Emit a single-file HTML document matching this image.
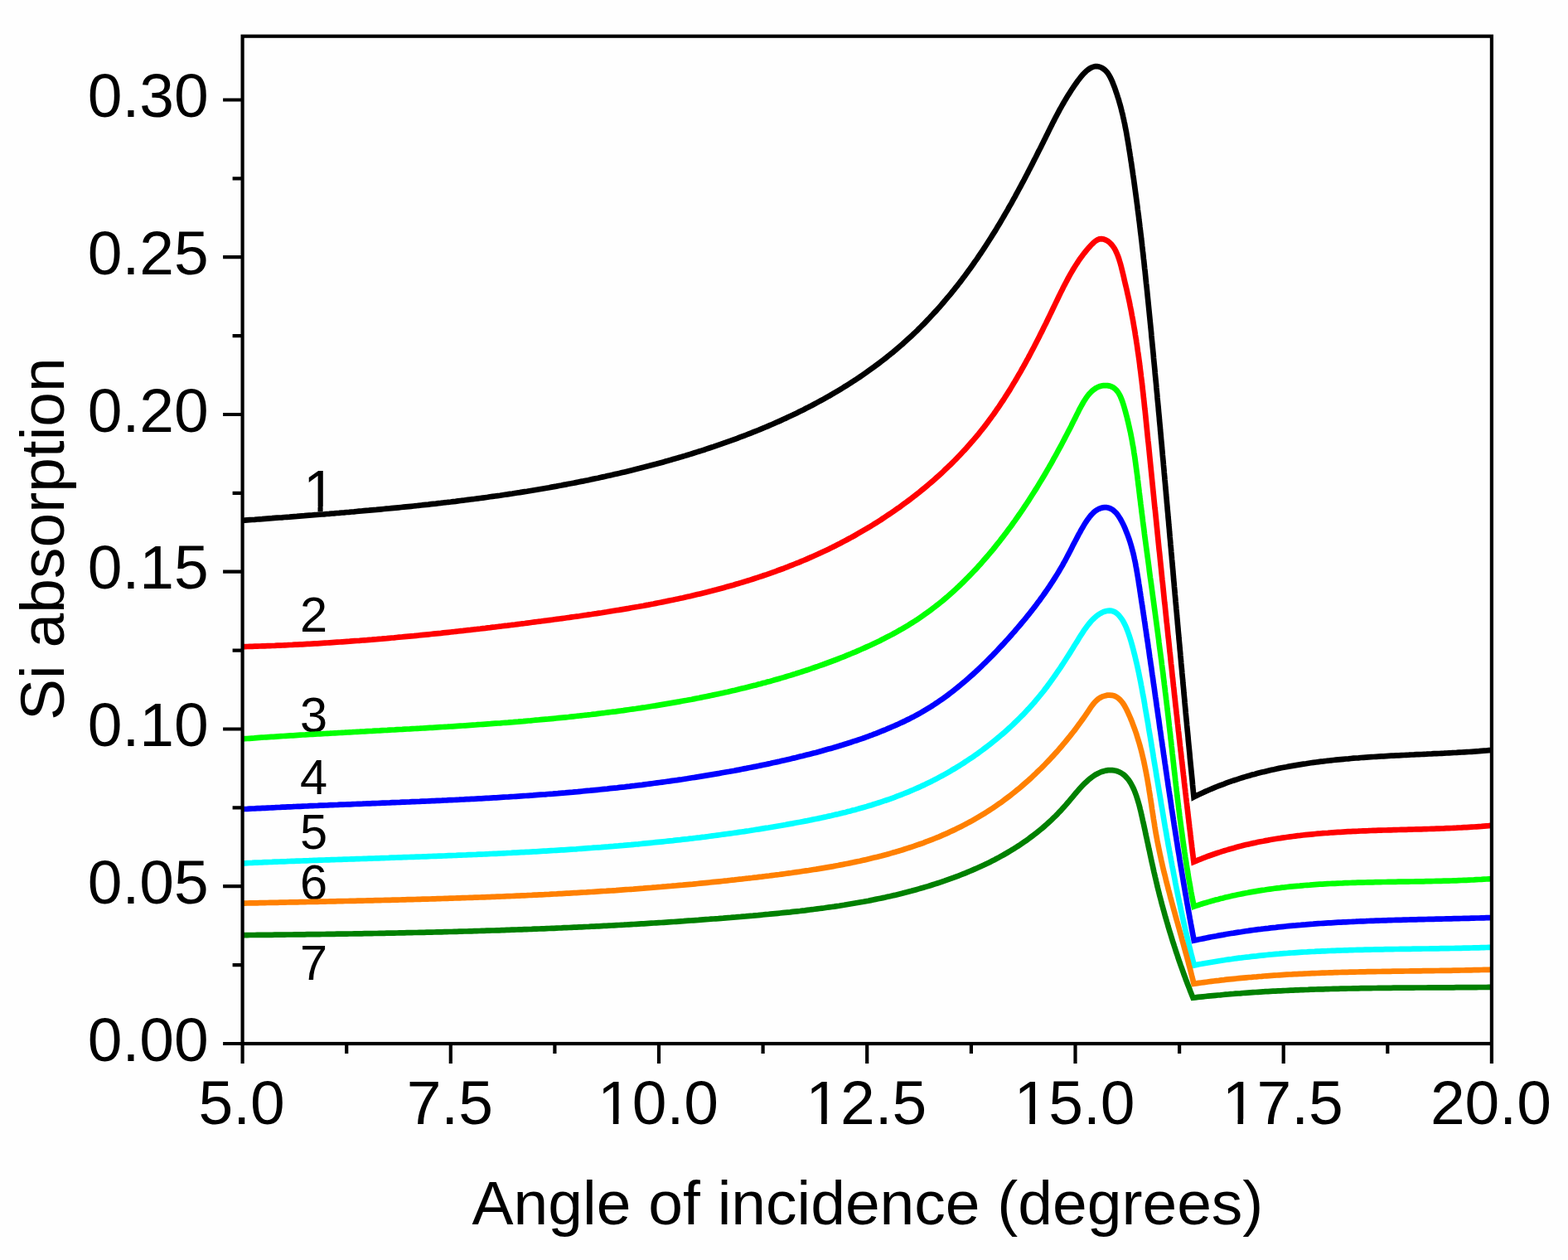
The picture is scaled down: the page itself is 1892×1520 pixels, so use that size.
<!DOCTYPE html>
<html><head><meta charset="utf-8"><title>Si absorption vs angle of incidence</title>
<style>
html,body{margin:0;padding:0;background:#fefefe;}
svg{display:block;}
text{font-family:"Liberation Sans",sans-serif;fill:#000;}
</style></head>
<body>
<svg width="1892" height="1520" viewBox="0 0 1892 1520">
<rect x="0" y="0" width="1892" height="1520" fill="#fefefe"/>
<defs><clipPath id="c1"><rect x="300" y="540" width="200" height="71"/><rect x="383.5" y="600" width="6.1" height="22"/></clipPath><clipPath id="cx2"><rect x="711.0" y="1280" width="166.0" height="69.7"/><rect x="739.8" y="1330" width="6.6" height="40"/><rect x="760.0" y="1330" width="146.0" height="40"/></clipPath><clipPath id="cx3"><rect x="962.3" y="1280" width="166.0" height="69.7"/><rect x="991.1" y="1330" width="6.6" height="40"/><rect x="1011.3" y="1330" width="146.0" height="40"/></clipPath><clipPath id="cx4"><rect x="1213.5" y="1280" width="166.0" height="69.7"/><rect x="1242.3" y="1330" width="6.6" height="40"/><rect x="1262.5" y="1330" width="146.0" height="40"/></clipPath><clipPath id="cx5"><rect x="1464.7" y="1280" width="166.0" height="69.7"/><rect x="1493.5" y="1330" width="6.6" height="40"/><rect x="1513.7" y="1330" width="146.0" height="40"/></clipPath></defs>
<g font-size="59.5">
<text x="365.9" y="617.2" font-size="70" clip-path="url(#c1)">1</text>
<text x="362.1" y="761.6">2</text>
<text x="362.1" y="882.8">3</text>
<text x="362.1" y="957.9">4</text>
<text x="362.1" y="1023.9">5</text>
<text x="362.1" y="1085.1">6</text>
<text x="362.1" y="1182">7</text>
</g>
<g fill="none" stroke-width="6.7" stroke-linejoin="miter" stroke-linecap="butt">
<path d="M292.3,627.9 L295.3,627.7 L298.3,627.4 L301.3,627.2 L304.3,627.0 L307.3,626.8 L310.3,626.5 L313.3,626.3 L316.3,626.1 L319.3,625.8 L322.3,625.6 L325.3,625.4 L328.2,625.2 L331.2,624.9 L334.2,624.7 L337.2,624.5 L340.2,624.3 L343.2,624.0 L346.2,623.8 L349.2,623.6 L352.2,623.3 L355.2,623.1 L358.2,622.9 L361.2,622.6 L364.2,622.4 L367.2,622.2 L370.2,621.9 L373.2,621.7 L376.2,621.5 L379.2,621.2 L382.2,621.0 L385.2,620.7 L388.2,620.5 L391.2,620.3 L394.2,620.0 L397.2,619.8 L400.2,619.5 L403.2,619.3 L406.2,619.0 L409.2,618.8 L412.2,618.5 L415.2,618.3 L418.2,618.0 L421.2,617.8 L424.2,617.5 L427.1,617.3 L430.1,617.0 L433.1,616.7 L436.1,616.5 L439.1,616.2 L442.1,615.9 L445.1,615.7 L448.1,615.4 L451.1,615.1 L454.1,614.9 L457.1,614.6 L460.1,614.3 L463.1,614.0 L466.1,613.7 L469.1,613.5 L472.1,613.2 L475.1,612.9 L478.0,612.6 L481.0,612.3 L484.0,612.0 L487.0,611.7 L490.0,611.4 L493.0,611.1 L496.0,610.8 L499.0,610.5 L502.0,610.2 L505.0,609.8 L507.9,609.5 L510.9,609.2 L513.9,608.9 L516.9,608.6 L519.9,608.2 L522.9,607.9 L525.9,607.6 L528.9,607.2 L531.8,606.9 L534.8,606.5 L537.8,606.2 L540.8,605.8 L543.8,605.5 L546.8,605.1 L549.7,604.8 L552.7,604.4 L555.7,604.0 L558.7,603.7 L561.7,603.3 L564.6,602.9 L567.6,602.5 L570.6,602.2 L573.6,601.8 L576.6,601.4 L579.5,601.0 L582.5,600.6 L585.5,600.2 L588.5,599.8 L591.4,599.3 L594.4,598.9 L597.4,598.5 L600.3,598.1 L603.3,597.7 L606.3,597.2 L609.3,596.8 L612.2,596.4 L615.2,595.9 L618.2,595.5 L621.1,595.0 L624.1,594.5 L627.1,594.1 L630.0,593.6 L633.0,593.1 L635.9,592.7 L638.9,592.2 L641.9,591.7 L644.8,591.2 L647.8,590.7 L650.7,590.2 L653.7,589.7 L656.7,589.2 L659.6,588.7 L662.6,588.2 L665.5,587.6 L668.5,587.1 L671.4,586.6 L674.4,586.0 L677.3,585.5 L680.3,584.9 L683.2,584.4 L686.2,583.8 L689.1,583.3 L692.1,582.7 L695.0,582.1 L698.0,581.5 L700.9,580.9 L703.9,580.4 L706.8,579.8 L709.7,579.2 L712.7,578.5 L715.6,577.9 L718.6,577.3 L721.5,576.7 L724.4,576.0 L727.4,575.4 L730.3,574.8 L733.2,574.1 L736.2,573.4 L739.1,572.8 L742.0,572.1 L744.9,571.4 L747.9,570.8 L750.8,570.1 L753.7,569.4 L756.6,568.7 L759.6,568.0 L762.5,567.3 L765.4,566.5 L768.3,565.8 L771.2,565.1 L774.2,564.3 L777.1,563.6 L780.0,562.8 L782.9,562.1 L785.8,561.3 L788.7,560.5 L791.6,559.8 L794.5,559.0 L797.4,558.2 L800.3,557.4 L803.2,556.6 L806.1,555.8 L809.0,554.9 L811.9,554.1 L814.8,553.3 L817.7,552.4 L820.6,551.6 L823.5,550.7 L826.4,549.9 L829.3,549.0 L832.2,548.1 L835.1,547.2 L838.0,546.3 L840.9,545.4 L843.7,544.5 L846.6,543.6 L849.5,542.7 L852.4,541.7 L855.2,540.8 L858.1,539.8 L861.0,538.9 L863.8,537.9 L866.7,536.9 L869.6,535.9 L872.4,534.9 L875.3,533.9 L878.1,532.9 L881.0,531.9 L883.8,530.9 L886.7,529.8 L889.5,528.8 L892.3,527.7 L895.1,526.7 L898.0,525.6 L900.8,524.5 L903.6,523.4 L906.4,522.3 L909.2,521.2 L912.0,520.1 L914.8,519.0 L917.6,517.8 L920.4,516.7 L923.2,515.5 L926.0,514.3 L928.7,513.1 L931.5,512.0 L934.3,510.8 L937.0,509.5 L939.8,508.3 L942.5,507.1 L945.3,505.8 L948.0,504.6 L950.7,503.3 L953.5,502.0 L956.2,500.8 L958.9,499.5 L961.6,498.2 L964.3,496.8 L967.0,495.5 L969.7,494.2 L972.3,492.8 L975.0,491.4 L977.7,490.1 L980.3,488.7 L983.0,487.3 L985.6,485.9 L988.3,484.4 L990.9,483.0 L993.5,481.6 L996.1,480.1 L998.7,478.6 L1001.3,477.2 L1003.9,475.7 L1006.5,474.1 L1009.1,472.6 L1011.7,471.1 L1014.2,469.6 L1016.8,468.0 L1019.3,466.4 L1021.9,464.8 L1024.4,463.2 L1026.9,461.6 L1029.4,460.0 L1031.9,458.4 L1034.4,456.7 L1036.9,455.1 L1039.3,453.4 L1041.8,451.7 L1044.3,450.0 L1046.7,448.3 L1049.1,446.6 L1051.6,444.8 L1054.0,443.1 L1056.4,441.3 L1058.8,439.5 L1061.2,437.7 L1063.5,435.9 L1065.9,434.1 L1068.3,432.3 L1070.6,430.4 L1072.9,428.5 L1075.2,426.7 L1077.6,424.8 L1079.9,422.8 L1082.2,420.9 L1084.4,419.0 L1086.7,417.0 L1089.0,415.1 L1091.2,413.1 L1093.4,411.1 L1095.6,409.1 L1097.9,407.0 L1100.1,405.0 L1102.2,402.9 L1104.4,400.9 L1106.6,398.8 L1108.7,396.7 L1110.9,394.5 L1113.0,392.4 L1115.1,390.3 L1117.2,388.1 L1119.3,385.9 L1121.4,383.7 L1123.4,381.5 L1125.5,379.3 L1127.5,377.1 L1129.6,374.9 L1131.6,372.6 L1133.6,370.4 L1135.6,368.1 L1137.6,365.8 L1139.5,363.5 L1141.5,361.2 L1143.4,358.9 L1145.4,356.6 L1147.3,354.3 L1149.2,351.9 L1151.1,349.6 L1153.0,347.2 L1154.9,344.8 L1156.7,342.5 L1158.6,340.1 L1160.4,337.7 L1162.2,335.3 L1164.0,332.9 L1165.8,330.5 L1167.6,328.0 L1169.4,325.6 L1171.1,323.2 L1172.9,320.7 L1174.6,318.3 L1176.3,315.8 L1178.1,313.4 L1179.8,310.9 L1181.4,308.4 L1183.1,306.0 L1184.8,303.5 L1186.4,301.0 L1188.1,298.5 L1189.7,296.0 L1191.3,293.5 L1192.9,291.0 L1194.5,288.5 L1196.1,285.9 L1197.7,283.4 L1199.3,280.9 L1200.9,278.4 L1202.4,275.8 L1203.9,273.3 L1205.5,270.7 L1207.0,268.2 L1208.5,265.6 L1210.0,263.1 L1211.5,260.5 L1213.0,257.9 L1214.5,255.4 L1216.0,252.8 L1217.4,250.2 L1218.9,247.6 L1220.4,245.1 L1221.8,242.5 L1223.2,239.9 L1224.7,237.3 L1226.1,234.7 L1227.5,232.1 L1228.9,229.5 L1230.3,226.9 L1231.7,224.3 L1233.1,221.7 L1234.5,219.1 L1235.9,216.5 L1237.2,213.9 L1238.6,211.2 L1240.0,208.6 L1241.3,206.0 L1242.7,203.4 L1244.0,200.8 L1245.4,198.2 L1246.7,195.5 L1248.0,192.9 L1249.4,190.3 L1250.7,187.7 L1252.0,185.0 L1253.3,182.4 L1254.7,179.8 L1256.0,177.2 L1257.3,174.5 L1258.6,171.9 L1259.9,169.3 L1261.2,166.7 L1262.5,164.0 L1263.8,161.4 L1265.1,158.8 L1266.4,156.1 L1267.7,153.5 L1269.0,150.9 L1270.3,148.3 L1271.7,145.6 L1273.0,143.0 L1274.4,140.4 L1275.8,137.7 L1277.2,135.1 L1278.6,132.4 L1280.1,129.8 L1281.6,127.2 L1283.1,124.5 L1284.6,121.9 L1286.2,119.2 L1287.8,116.5 L1289.5,113.9 L1291.2,111.2 L1292.9,108.5 L1294.7,105.8 L1296.5,103.2 L1298.4,100.5 L1300.3,97.8 L1302.3,95.2 L1304.3,92.7 L1306.3,90.3 L1308.4,88.0 L1310.5,86.0 L1312.7,84.2 L1314.8,82.7 L1317.0,81.5 L1319.3,80.6 L1321.5,80.1 L1323.8,80.0 L1326.0,80.4 L1328.3,81.2 L1330.5,82.4 L1332.6,83.9 L1334.6,85.8 L1336.4,87.9 L1338.1,90.4 L1339.6,93.1 L1341.0,95.9 L1342.3,98.9 L1343.5,101.9 L1344.7,105.0 L1345.8,108.1 L1346.8,111.1 L1347.9,114.2 L1348.8,117.2 L1349.8,120.2 L1350.6,123.2 L1351.5,126.2 L1352.3,129.2 L1353.1,132.2 L1353.8,135.1 L1354.6,138.1 L1355.2,141.0 L1355.9,144.0 L1356.5,146.9 L1357.2,149.9 L1357.7,152.8 L1358.3,155.7 L1358.9,158.6 L1359.4,161.5 L1359.9,164.5 L1360.4,167.4 L1360.9,170.3 L1361.4,173.2 L1361.9,176.1 L1362.3,179.0 L1362.8,182.0 L1363.3,184.9 L1363.7,187.8 L1364.2,190.7 L1364.6,193.7 L1365.1,196.6 L1365.5,199.5 L1365.9,202.4 L1366.4,205.4 L1366.8,208.3 L1367.2,211.3 L1367.7,214.2 L1368.1,217.1 L1368.5,220.1 L1368.9,223.0 L1369.3,226.0 L1369.7,228.9 L1370.1,231.9 L1370.5,234.8 L1370.9,237.8 L1371.3,240.8 L1371.7,243.7 L1372.1,246.7 L1372.5,249.6 L1372.8,252.6 L1373.2,255.6 L1373.6,258.5 L1374.0,261.5 L1374.3,264.5 L1374.7,267.4 L1375.1,270.4 L1375.4,273.4 L1375.8,276.4 L1376.1,279.3 L1376.5,282.3 L1376.9,285.3 L1377.2,288.3 L1377.6,291.3 L1377.9,294.2 L1378.2,297.2 L1378.6,300.2 L1378.9,303.2 L1379.3,306.2 L1379.6,309.2 L1379.9,312.2 L1380.3,315.1 L1380.6,318.1 L1380.9,321.1 L1381.2,324.1 L1381.6,327.1 L1381.9,330.1 L1382.2,333.1 L1382.5,336.1 L1382.8,339.1 L1383.1,342.1 L1383.5,345.1 L1383.8,348.1 L1384.1,351.1 L1384.4,354.1 L1384.7,357.1 L1385.0,360.1 L1385.3,363.0 L1385.6,366.0 L1385.9,369.0 L1386.2,372.0 L1386.5,375.0 L1386.8,378.0 L1387.1,381.0 L1387.4,384.0 L1387.7,387.0 L1388.0,390.0 L1388.3,393.0 L1388.6,396.0 L1388.9,399.0 L1389.2,402.0 L1389.4,405.0 L1389.7,408.0 L1390.0,411.0 L1390.3,414.0 L1390.6,417.0 L1390.9,420.0 L1391.2,423.0 L1391.5,426.0 L1391.8,429.0 L1392.0,432.0 L1392.3,435.0 L1392.6,438.0 L1392.9,441.0 L1393.2,444.0 L1393.5,447.0 L1393.7,450.0 L1394.0,453.0 L1394.3,456.0 L1394.6,459.0 L1394.9,462.0 L1395.2,465.0 L1395.4,468.0 L1395.7,471.0 L1396.0,474.0 L1396.3,477.0 L1396.5,480.0 L1396.8,483.0 L1397.1,486.0 L1397.4,489.0 L1397.7,491.9 L1397.9,494.9 L1398.2,497.9 L1398.5,500.9 L1398.8,503.9 L1399.0,506.9 L1399.3,509.9 L1399.6,512.9 L1399.9,515.9 L1400.1,518.9 L1400.4,521.9 L1400.7,524.9 L1400.9,527.9 L1401.2,530.9 L1401.5,533.9 L1401.8,536.9 L1402.0,539.9 L1402.3,542.8 L1402.6,545.8 L1402.8,548.8 L1403.1,551.8 L1403.4,554.8 L1403.7,557.8 L1403.9,560.8 L1404.2,563.8 L1404.5,566.8 L1404.7,569.8 L1405.0,572.8 L1405.3,575.8 L1405.5,578.8 L1405.8,581.7 L1406.1,584.7 L1406.3,587.7 L1406.6,590.7 L1406.9,593.7 L1407.1,596.7 L1407.4,599.7 L1407.7,602.7 L1407.9,605.7 L1408.2,608.7 L1408.5,611.7 L1408.7,614.7 L1409.0,617.6 L1409.3,620.6 L1409.5,623.6 L1409.8,626.6 L1410.1,629.6 L1410.3,632.6 L1410.6,635.6 L1410.9,638.6 L1411.1,641.6 L1411.4,644.6 L1411.6,647.5 L1411.9,650.5 L1412.2,653.5 L1412.4,656.5 L1412.7,659.5 L1413.0,662.5 L1413.2,665.5 L1413.5,668.5 L1413.8,671.5 L1414.0,674.5 L1414.3,677.4 L1414.6,680.4 L1414.8,683.4 L1415.1,686.4 L1415.4,689.4 L1415.6,692.4 L1415.9,695.4 L1416.1,698.4 L1416.4,701.4 L1416.7,704.4 L1416.9,707.3 L1417.2,710.3 L1417.5,713.3 L1417.7,716.3 L1418.0,719.3 L1418.3,722.3 L1418.5,725.3 L1418.8,728.3 L1419.1,731.3 L1419.3,734.3 L1419.6,737.2 L1419.9,740.2 L1420.1,743.2 L1420.4,746.2 L1420.7,749.2 L1420.9,752.2 L1421.2,755.2 L1421.5,758.2 L1421.7,761.2 L1422.0,764.1 L1422.3,767.1 L1422.5,770.1 L1422.8,773.1 L1423.1,776.1 L1423.4,779.1 L1423.6,782.1 L1423.9,785.1 L1424.2,788.1 L1424.4,791.0 L1424.7,794.0 L1425.0,797.0 L1425.2,800.0 L1425.5,803.0 L1425.8,806.0 L1426.1,809.0 L1426.3,812.0 L1426.6,815.0 L1426.9,818.0 L1427.2,820.9 L1427.4,823.9 L1427.7,826.9 L1428.0,829.9 L1428.3,832.9 L1428.5,835.9 L1428.8,838.9 L1429.1,841.9 L1429.4,844.9 L1429.6,847.8 L1429.9,850.8 L1430.2,853.8 L1430.5,856.8 L1430.7,859.8 L1431.0,862.8 L1431.3,865.8 L1431.6,868.8 L1431.9,871.8 L1432.1,874.8 L1432.4,877.7 L1432.7,880.7 L1433.0,883.7 L1433.3,886.7 L1433.6,889.7 L1433.8,892.7 L1434.1,895.7 L1434.4,898.7 L1434.7,901.7 L1435.0,904.7 L1435.3,907.7 L1435.6,910.6 L1435.8,913.6 L1436.1,916.6 L1436.4,919.6 L1436.7,922.6 L1437.0,925.6 L1437.3,928.6 L1437.6,931.6 L1437.9,934.6 L1438.2,937.6 L1438.5,940.6 L1438.8,943.5 L1439.0,946.5 L1439.3,949.5 L1439.6,952.5 L1439.9,955.5 L1440.2,958.5 L1440.5,961.5 L1443.2,960.1 L1446.0,958.8 L1448.7,957.5 L1451.5,956.2 L1454.3,954.9 L1457.0,953.7 L1459.8,952.5 L1462.6,951.3 L1465.4,950.2 L1468.2,949.0 L1471.0,947.9 L1473.9,946.8 L1476.7,945.8 L1479.5,944.7 L1482.3,943.7 L1485.2,942.7 L1488.0,941.7 L1490.9,940.8 L1493.8,939.8 L1496.6,938.9 L1499.5,938.0 L1502.4,937.1 L1505.3,936.3 L1508.1,935.5 L1511.0,934.6 L1513.9,933.9 L1516.8,933.1 L1519.8,932.3 L1522.7,931.6 L1525.6,930.9 L1528.5,930.2 L1531.4,929.5 L1534.4,928.8 L1537.3,928.2 L1540.3,927.5 L1543.2,926.9 L1546.2,926.3 L1549.1,925.7 L1552.1,925.2 L1555.0,924.6 L1558.0,924.1 L1561.0,923.6 L1563.9,923.1 L1566.9,922.6 L1569.9,922.1 L1572.9,921.6 L1575.9,921.2 L1578.9,920.7 L1581.9,920.3 L1584.9,919.9 L1587.9,919.5 L1590.9,919.1 L1593.9,918.7 L1596.9,918.4 L1599.9,918.0 L1602.9,917.7 L1605.9,917.3 L1608.9,917.0 L1611.9,916.7 L1615.0,916.4 L1618.0,916.1 L1621.0,915.8 L1624.0,915.5 L1627.1,915.3 L1630.1,915.0 L1633.1,914.7 L1636.2,914.5 L1639.2,914.3 L1642.2,914.0 L1645.3,913.8 L1648.3,913.6 L1651.4,913.4 L1654.4,913.2 L1657.4,913.0 L1660.5,912.8 L1663.5,912.6 L1666.6,912.4 L1669.6,912.3 L1672.7,912.1 L1675.7,911.9 L1678.7,911.7 L1681.8,911.6 L1684.8,911.4 L1687.9,911.3 L1690.9,911.1 L1694.0,911.0 L1697.0,910.8 L1700.0,910.7 L1703.1,910.5 L1706.1,910.4 L1709.2,910.2 L1712.2,910.1 L1715.2,910.0 L1718.3,909.8 L1721.3,909.7 L1724.3,909.5 L1727.4,909.4 L1730.4,909.2 L1733.4,909.1 L1736.5,909.0 L1739.5,908.8 L1742.5,908.7 L1745.5,908.5 L1748.6,908.3 L1751.6,908.2 L1754.6,908.0 L1757.6,907.9 L1760.6,907.7 L1763.6,907.5 L1766.6,907.3 L1769.6,907.1 L1772.6,907.0 L1775.6,906.8 L1778.6,906.6 L1781.6,906.4 L1784.6,906.2 L1787.6,905.9 L1790.6,905.7 L1793.6,905.5 L1796.5,905.2 L1799.5,905.0" stroke="#000000"/>
<path d="M292.3,780.2 L295.3,780.1 L298.3,780.0 L301.4,779.9 L304.4,779.8 L307.5,779.7 L310.5,779.6 L313.5,779.5 L316.5,779.4 L319.6,779.3 L322.6,779.2 L325.6,779.1 L328.6,779.0 L331.7,778.9 L334.7,778.7 L337.7,778.6 L340.7,778.5 L343.7,778.3 L346.8,778.2 L349.8,778.0 L352.8,777.9 L355.8,777.7 L358.8,777.6 L361.8,777.4 L364.8,777.3 L367.8,777.1 L370.8,776.9 L373.8,776.8 L376.8,776.6 L379.9,776.4 L382.9,776.3 L385.9,776.1 L388.9,775.9 L391.9,775.7 L394.8,775.5 L397.8,775.3 L400.8,775.1 L403.8,774.9 L406.8,774.7 L409.8,774.5 L412.8,774.3 L415.8,774.1 L418.8,773.9 L421.8,773.7 L424.8,773.4 L427.8,773.2 L430.8,773.0 L433.7,772.8 L436.7,772.5 L439.7,772.3 L442.7,772.1 L445.7,771.8 L448.7,771.6 L451.6,771.3 L454.6,771.1 L457.6,770.8 L460.6,770.6 L463.6,770.3 L466.6,770.1 L469.5,769.8 L472.5,769.5 L475.5,769.3 L478.5,769.0 L481.4,768.7 L484.4,768.5 L487.4,768.2 L490.4,767.9 L493.4,767.6 L496.3,767.3 L499.3,767.1 L502.3,766.8 L505.3,766.5 L508.2,766.2 L511.2,765.9 L514.2,765.6 L517.2,765.3 L520.1,765.0 L523.1,764.7 L526.1,764.4 L529.1,764.1 L532.0,763.8 L535.0,763.4 L538.0,763.1 L541.0,762.8 L543.9,762.5 L546.9,762.2 L549.9,761.8 L552.8,761.5 L555.8,761.2 L558.8,760.9 L561.8,760.5 L564.7,760.2 L567.7,759.9 L570.7,759.5 L573.7,759.2 L576.6,758.8 L579.6,758.5 L582.6,758.1 L585.6,757.8 L588.5,757.4 L591.5,757.1 L594.5,756.7 L597.5,756.4 L600.5,756.0 L603.4,755.7 L606.4,755.3 L609.4,754.9 L612.4,754.6 L615.4,754.2 L618.3,753.8 L621.3,753.5 L624.3,753.1 L627.3,752.7 L630.3,752.3 L633.2,752.0 L636.2,751.6 L639.2,751.2 L642.2,750.8 L645.2,750.4 L648.2,750.0 L651.1,749.7 L654.1,749.3 L657.1,748.9 L660.1,748.5 L663.1,748.1 L666.1,747.7 L669.1,747.3 L672.1,746.9 L675.1,746.5 L678.1,746.1 L681.0,745.7 L684.0,745.3 L687.0,744.9 L690.0,744.4 L693.0,744.0 L696.0,743.6 L699.0,743.2 L702.0,742.7 L705.0,742.3 L708.0,741.9 L711.0,741.4 L713.9,741.0 L716.9,740.5 L719.9,740.1 L722.9,739.6 L725.9,739.2 L728.9,738.7 L731.9,738.3 L734.9,737.8 L737.8,737.3 L740.8,736.8 L743.8,736.3 L746.8,735.9 L749.8,735.4 L752.8,734.9 L755.7,734.4 L758.7,733.9 L761.7,733.3 L764.7,732.8 L767.7,732.3 L770.6,731.8 L773.6,731.2 L776.6,730.7 L779.5,730.1 L782.5,729.6 L785.5,729.0 L788.4,728.5 L791.4,727.9 L794.4,727.3 L797.3,726.7 L800.3,726.1 L803.2,725.5 L806.2,724.9 L809.1,724.3 L812.1,723.7 L815.0,723.1 L818.0,722.4 L820.9,721.8 L823.9,721.2 L826.8,720.5 L829.8,719.8 L832.7,719.2 L835.6,718.5 L838.6,717.8 L841.5,717.1 L844.4,716.4 L847.3,715.7 L850.3,715.0 L853.2,714.3 L856.1,713.5 L859.0,712.8 L861.9,712.0 L864.8,711.3 L867.7,710.5 L870.6,709.7 L873.5,708.9 L876.4,708.1 L879.3,707.3 L882.2,706.5 L885.1,705.7 L887.9,704.8 L890.8,704.0 L893.7,703.1 L896.6,702.3 L899.4,701.4 L902.3,700.5 L905.2,699.6 L908.0,698.7 L910.9,697.8 L913.7,696.9 L916.6,695.9 L919.4,695.0 L922.2,694.0 L925.1,693.1 L927.9,692.1 L930.7,691.1 L933.5,690.1 L936.4,689.1 L939.2,688.0 L942.0,687.0 L944.8,686.0 L947.6,684.9 L950.4,683.8 L953.2,682.7 L956.0,681.6 L958.7,680.5 L961.5,679.4 L964.3,678.3 L967.0,677.1 L969.8,676.0 L972.6,674.8 L975.3,673.6 L978.1,672.4 L980.8,671.2 L983.5,670.0 L986.3,668.8 L989.0,667.5 L991.7,666.2 L994.4,665.0 L997.2,663.7 L999.9,662.4 L1002.6,661.1 L1005.3,659.7 L1007.9,658.4 L1010.6,657.0 L1013.3,655.7 L1016.0,654.3 L1018.6,652.9 L1021.3,651.5 L1024.0,650.0 L1026.6,648.6 L1029.2,647.2 L1031.9,645.7 L1034.5,644.2 L1037.1,642.7 L1039.7,641.2 L1042.3,639.7 L1044.9,638.2 L1047.5,636.6 L1050.1,635.1 L1052.7,633.5 L1055.2,631.9 L1057.8,630.3 L1060.3,628.7 L1062.9,627.1 L1065.4,625.4 L1067.9,623.8 L1070.4,622.1 L1072.9,620.4 L1075.4,618.8 L1077.9,617.1 L1080.4,615.3 L1082.8,613.6 L1085.3,611.9 L1087.7,610.1 L1090.1,608.3 L1092.6,606.6 L1095.0,604.8 L1097.4,603.0 L1099.8,601.2 L1102.1,599.3 L1104.5,597.5 L1106.9,595.6 L1109.2,593.8 L1111.5,591.9 L1113.9,590.0 L1116.2,588.1 L1118.5,586.2 L1120.7,584.2 L1123.0,582.3 L1125.3,580.4 L1127.5,578.4 L1129.8,576.4 L1132.0,574.4 L1134.2,572.4 L1136.4,570.4 L1138.6,568.4 L1140.7,566.3 L1142.9,564.3 L1145.0,562.2 L1147.2,560.2 L1149.3,558.1 L1151.4,556.0 L1153.5,553.9 L1155.5,551.7 L1157.6,549.6 L1159.6,547.5 L1161.6,545.3 L1163.7,543.1 L1165.7,540.9 L1167.6,538.8 L1169.6,536.5 L1171.5,534.3 L1173.5,532.1 L1175.4,529.9 L1177.3,527.6 L1179.2,525.3 L1181.1,523.1 L1182.9,520.8 L1184.7,518.5 L1186.6,516.2 L1188.4,513.9 L1190.2,511.5 L1191.9,509.2 L1193.7,506.8 L1195.4,504.5 L1197.1,502.1 L1198.9,499.7 L1200.6,497.3 L1202.2,494.9 L1203.9,492.5 L1205.6,490.1 L1207.2,487.7 L1208.8,485.2 L1210.5,482.8 L1212.1,480.3 L1213.6,477.8 L1215.2,475.4 L1216.8,472.9 L1218.4,470.4 L1219.9,467.9 L1221.4,465.4 L1222.9,462.8 L1224.5,460.3 L1226.0,457.8 L1227.5,455.2 L1228.9,452.7 L1230.4,450.1 L1231.9,447.6 L1233.3,445.0 L1234.8,442.4 L1236.2,439.8 L1237.6,437.3 L1239.0,434.7 L1240.5,432.1 L1241.9,429.4 L1243.3,426.8 L1244.6,424.2 L1246.0,421.6 L1247.4,419.0 L1248.8,416.3 L1250.1,413.7 L1251.5,411.0 L1252.8,408.4 L1254.2,405.7 L1255.5,403.1 L1256.9,400.4 L1258.2,397.7 L1259.5,395.1 L1260.8,392.4 L1262.2,389.7 L1263.5,387.0 L1264.8,384.3 L1266.1,381.6 L1267.4,378.9 L1268.7,376.2 L1270.0,373.5 L1271.3,370.8 L1272.6,368.1 L1273.9,365.4 L1275.2,362.7 L1276.5,360.0 L1277.8,357.3 L1279.1,354.6 L1280.4,351.9 L1281.8,349.2 L1283.1,346.5 L1284.5,343.9 L1285.9,341.2 L1287.3,338.6 L1288.7,335.9 L1290.1,333.3 L1291.6,330.7 L1293.1,328.1 L1294.6,325.5 L1296.1,323.0 L1297.7,320.5 L1299.3,318.0 L1301.0,315.5 L1302.6,313.0 L1304.4,310.6 L1306.1,308.2 L1307.9,305.8 L1309.8,303.5 L1311.7,301.2 L1313.6,298.9 L1315.6,296.7 L1317.7,294.5 L1319.8,292.5 L1322.0,290.7 L1324.3,289.3 L1326.6,288.4 L1329.1,288.1 L1331.7,288.5 L1334.3,289.5 L1336.7,290.9 L1339.0,292.7 L1341.1,294.8 L1343.0,297.2 L1344.7,299.7 L1346.2,302.5 L1347.6,305.5 L1348.9,308.6 L1350.0,311.8 L1351.0,315.1 L1352.0,318.4 L1352.9,321.7 L1353.7,325.1 L1354.5,328.3 L1355.3,331.5 L1356.0,334.6 L1356.7,337.7 L1357.4,340.7 L1358.1,343.6 L1358.8,346.5 L1359.5,349.4 L1360.1,352.2 L1360.7,355.1 L1361.4,357.9 L1362.0,360.7 L1362.6,363.5 L1363.2,366.4 L1363.7,369.2 L1364.3,372.1 L1364.9,374.9 L1365.4,377.8 L1365.9,380.6 L1366.5,383.5 L1367.0,386.4 L1367.5,389.3 L1368.0,392.2 L1368.5,395.0 L1369.0,397.9 L1369.5,400.8 L1369.9,403.8 L1370.4,406.7 L1370.9,409.6 L1371.3,412.5 L1371.8,415.4 L1372.2,418.4 L1372.6,421.3 L1373.0,424.3 L1373.5,427.2 L1373.9,430.2 L1374.3,433.1 L1374.7,436.1 L1375.1,439.0 L1375.4,442.0 L1375.8,445.0 L1376.2,447.9 L1376.6,450.9 L1376.9,453.9 L1377.3,456.9 L1377.7,459.9 L1378.0,462.8 L1378.4,465.8 L1378.7,468.8 L1379.0,471.8 L1379.4,474.8 L1379.7,477.8 L1380.0,480.8 L1380.4,483.8 L1380.7,486.8 L1381.0,489.8 L1381.3,492.8 L1381.7,495.8 L1382.0,498.8 L1382.3,501.8 L1382.6,504.8 L1382.9,507.8 L1383.2,510.8 L1383.5,513.9 L1383.8,516.9 L1384.1,519.9 L1384.4,522.9 L1384.7,525.9 L1385.0,528.9 L1385.3,531.9 L1385.7,534.9 L1386.0,537.9 L1386.3,540.9 L1386.6,543.9 L1386.9,546.9 L1387.2,550.0 L1387.5,553.0 L1387.8,556.0 L1388.1,559.0 L1388.4,562.0 L1388.7,565.0 L1389.0,568.0 L1389.3,571.0 L1389.6,574.0 L1389.9,577.0 L1390.2,580.0 L1390.5,583.0 L1390.8,586.0 L1391.1,589.0 L1391.4,592.0 L1391.7,595.0 L1392.0,598.0 L1392.3,601.0 L1392.6,604.0 L1392.9,607.0 L1393.2,610.0 L1393.5,613.0 L1393.9,615.9 L1394.2,618.9 L1394.5,621.9 L1394.8,624.9 L1395.1,627.9 L1395.4,630.9 L1395.7,633.9 L1396.0,636.9 L1396.3,639.9 L1396.6,642.9 L1396.9,645.9 L1397.2,648.9 L1397.5,651.9 L1397.8,654.9 L1398.1,657.8 L1398.4,660.8 L1398.7,663.8 L1399.1,666.8 L1399.4,669.8 L1399.7,672.8 L1400.0,675.8 L1400.3,678.8 L1400.6,681.8 L1400.9,684.7 L1401.2,687.7 L1401.5,690.7 L1401.8,693.7 L1402.1,696.7 L1402.4,699.7 L1402.8,702.7 L1403.1,705.6 L1403.4,708.6 L1403.7,711.6 L1404.0,714.6 L1404.3,717.6 L1404.6,720.6 L1404.9,723.6 L1405.2,726.5 L1405.6,729.5 L1405.9,732.5 L1406.2,735.5 L1406.5,738.5 L1406.8,741.5 L1407.1,744.4 L1407.4,747.4 L1407.7,750.4 L1408.1,753.4 L1408.4,756.4 L1408.7,759.3 L1409.0,762.3 L1409.3,765.3 L1409.6,768.3 L1410.0,771.3 L1410.3,774.3 L1410.6,777.2 L1410.9,780.2 L1411.2,783.2 L1411.5,786.2 L1411.9,789.2 L1412.2,792.1 L1412.5,795.1 L1412.8,798.1 L1413.1,801.1 L1413.5,804.1 L1413.8,807.0 L1414.1,810.0 L1414.4,813.0 L1414.7,816.0 L1415.1,819.0 L1415.4,822.0 L1415.7,824.9 L1416.0,827.9 L1416.4,830.9 L1416.7,833.9 L1417.0,836.9 L1417.3,839.8 L1417.7,842.8 L1418.0,845.8 L1418.3,848.8 L1418.6,851.8 L1419.0,854.7 L1419.3,857.7 L1419.6,860.7 L1420.0,863.7 L1420.3,866.7 L1420.6,869.6 L1420.9,872.6 L1421.3,875.6 L1421.6,878.6 L1421.9,881.6 L1422.3,884.5 L1422.6,887.5 L1422.9,890.5 L1423.3,893.5 L1423.6,896.5 L1423.9,899.4 L1424.3,902.4 L1424.6,905.4 L1425.0,908.4 L1425.3,911.4 L1425.6,914.4 L1426.0,917.3 L1426.3,920.3 L1426.7,923.3 L1427.0,926.3 L1427.3,929.3 L1427.7,932.3 L1428.0,935.2 L1428.4,938.2 L1428.7,941.2 L1429.0,944.2 L1429.4,947.2 L1429.7,950.2 L1430.1,953.1 L1430.4,956.1 L1430.8,959.1 L1431.1,962.1 L1431.5,965.1 L1431.8,968.1 L1432.2,971.1 L1432.5,974.0 L1432.9,977.0 L1433.2,980.0 L1433.6,983.0 L1433.9,986.0 L1434.3,989.0 L1434.6,992.0 L1435.0,994.9 L1435.3,997.9 L1435.7,1000.9 L1436.1,1003.9 L1436.4,1006.9 L1436.8,1009.9 L1437.1,1012.9 L1437.5,1015.9 L1437.9,1018.9 L1438.2,1021.9 L1438.6,1024.8 L1438.9,1027.8 L1439.3,1030.8 L1439.7,1033.8 L1440.0,1036.8 L1440.4,1039.8 L1443.2,1038.6 L1446.0,1037.4 L1448.8,1036.3 L1451.7,1035.2 L1454.5,1034.1 L1457.3,1033.0 L1460.2,1032.0 L1463.0,1031.0 L1465.9,1030.0 L1468.8,1029.0 L1471.6,1028.1 L1474.5,1027.1 L1477.4,1026.2 L1480.3,1025.4 L1483.2,1024.5 L1486.1,1023.7 L1489.0,1022.9 L1491.9,1022.1 L1494.8,1021.3 L1497.7,1020.6 L1500.6,1019.8 L1503.5,1019.1 L1506.5,1018.4 L1509.4,1017.7 L1512.3,1017.1 L1515.3,1016.5 L1518.2,1015.8 L1521.2,1015.2 L1524.1,1014.7 L1527.1,1014.1 L1530.1,1013.6 L1533.0,1013.0 L1536.0,1012.5 L1539.0,1012.0 L1542.0,1011.5 L1544.9,1011.1 L1547.9,1010.6 L1550.9,1010.2 L1553.9,1009.8 L1556.9,1009.4 L1559.9,1009.0 L1562.9,1008.6 L1565.9,1008.2 L1568.9,1007.9 L1571.9,1007.5 L1574.9,1007.2 L1578.0,1006.9 L1581.0,1006.6 L1584.0,1006.3 L1587.0,1006.0 L1590.1,1005.7 L1593.1,1005.5 L1596.1,1005.2 L1599.1,1005.0 L1602.2,1004.8 L1605.2,1004.5 L1608.2,1004.3 L1611.3,1004.1 L1614.3,1003.9 L1617.4,1003.8 L1620.4,1003.6 L1623.5,1003.4 L1626.5,1003.2 L1629.6,1003.1 L1632.6,1002.9 L1635.6,1002.8 L1638.7,1002.7 L1641.8,1002.5 L1644.8,1002.4 L1647.9,1002.3 L1650.9,1002.2 L1654.0,1002.0 L1657.0,1001.9 L1660.1,1001.8 L1663.1,1001.7 L1666.2,1001.6 L1669.2,1001.5 L1672.3,1001.5 L1675.3,1001.4 L1678.4,1001.3 L1681.5,1001.2 L1684.5,1001.1 L1687.6,1001.0 L1690.6,1000.9 L1693.7,1000.9 L1696.7,1000.8 L1699.8,1000.7 L1702.8,1000.6 L1705.9,1000.5 L1708.9,1000.4 L1712.0,1000.4 L1715.0,1000.3 L1718.1,1000.2 L1721.1,1000.1 L1724.1,1000.0 L1727.2,999.9 L1730.2,999.8 L1733.3,999.7 L1736.3,999.6 L1739.3,999.5 L1742.4,999.4 L1745.4,999.2 L1748.4,999.1 L1751.5,999.0 L1754.5,998.8 L1757.5,998.7 L1760.5,998.5 L1763.5,998.4 L1766.5,998.2 L1769.6,998.1 L1772.6,997.9 L1775.6,997.7 L1778.6,997.5 L1781.6,997.3 L1784.6,997.1 L1787.6,996.9 L1790.5,996.6 L1793.5,996.4 L1796.5,996.2 L1799.5,995.9" stroke="#ff0000"/>
<path d="M292.3,891.4 L295.2,891.2 L298.1,891.0 L301.0,890.8 L303.9,890.6 L306.8,890.4 L309.7,890.1 L312.6,889.9 L315.5,889.7 L318.4,889.5 L321.3,889.3 L324.3,889.1 L327.2,888.9 L330.1,888.8 L333.0,888.6 L336.0,888.4 L338.9,888.2 L341.8,888.0 L344.8,887.8 L347.7,887.6 L350.7,887.4 L353.6,887.3 L356.6,887.1 L359.5,886.9 L362.5,886.7 L365.4,886.5 L368.4,886.4 L371.3,886.2 L374.3,886.0 L377.3,885.8 L380.2,885.7 L383.2,885.5 L386.2,885.3 L389.2,885.2 L392.1,885.0 L395.1,884.8 L398.1,884.7 L401.1,884.5 L404.1,884.3 L407.1,884.2 L410.1,884.0 L413.0,883.8 L416.0,883.7 L419.0,883.5 L422.0,883.3 L425.0,883.2 L428.0,883.0 L431.0,882.8 L434.0,882.7 L437.0,882.5 L440.1,882.4 L443.1,882.2 L446.1,882.0 L449.1,881.9 L452.1,881.7 L455.1,881.5 L458.1,881.4 L461.2,881.2 L464.2,881.0 L467.2,880.9 L470.2,880.7 L473.2,880.5 L476.3,880.4 L479.3,880.2 L482.3,880.0 L485.3,879.9 L488.4,879.7 L491.4,879.5 L494.4,879.4 L497.5,879.2 L500.5,879.0 L503.5,878.8 L506.6,878.7 L509.6,878.5 L512.6,878.3 L515.7,878.1 L518.7,877.9 L521.8,877.8 L524.8,877.6 L527.8,877.4 L530.9,877.2 L533.9,877.0 L537.0,876.8 L540.0,876.7 L543.0,876.5 L546.1,876.3 L549.1,876.1 L552.2,875.9 L555.2,875.7 L558.3,875.5 L561.3,875.3 L564.3,875.1 L567.4,874.9 L570.4,874.7 L573.5,874.5 L576.5,874.2 L579.6,874.0 L582.6,873.8 L585.7,873.6 L588.7,873.4 L591.7,873.2 L594.8,872.9 L597.8,872.7 L600.9,872.5 L603.9,872.3 L607.0,872.0 L610.0,871.8 L613.0,871.6 L616.1,871.3 L619.1,871.1 L622.2,870.8 L625.2,870.6 L628.2,870.3 L631.3,870.1 L634.3,869.8 L637.4,869.5 L640.4,869.3 L643.4,869.0 L646.5,868.7 L649.5,868.5 L652.5,868.2 L655.6,867.9 L658.6,867.6 L661.6,867.4 L664.7,867.1 L667.7,866.8 L670.7,866.5 L673.8,866.2 L676.8,865.9 L679.8,865.6 L682.8,865.3 L685.9,865.0 L688.9,864.6 L691.9,864.3 L694.9,864.0 L697.9,863.7 L700.9,863.3 L704.0,863.0 L707.0,862.7 L710.0,862.3 L713.0,862.0 L716.0,861.6 L719.0,861.3 L722.0,860.9 L725.0,860.5 L728.0,860.2 L731.0,859.8 L734.0,859.4 L737.0,859.0 L740.0,858.6 L743.0,858.3 L746.0,857.9 L749.0,857.5 L752.0,857.1 L755.0,856.6 L757.9,856.2 L760.9,855.8 L763.9,855.4 L766.9,855.0 L769.9,854.5 L772.8,854.1 L775.8,853.6 L778.8,853.2 L781.7,852.7 L784.7,852.3 L787.7,851.8 L790.6,851.4 L793.6,850.9 L796.5,850.4 L799.5,849.9 L802.4,849.4 L805.4,848.9 L808.3,848.4 L811.2,847.9 L814.2,847.4 L817.1,846.9 L820.0,846.4 L823.0,845.8 L825.9,845.3 L828.8,844.8 L831.7,844.2 L834.7,843.7 L837.6,843.1 L840.5,842.5 L843.4,842.0 L846.3,841.4 L849.2,840.8 L852.1,840.2 L855.0,839.6 L857.9,839.0 L860.8,838.4 L863.7,837.8 L866.5,837.2 L869.4,836.6 L872.3,835.9 L875.2,835.3 L878.0,834.7 L880.9,834.0 L883.8,833.3 L886.6,832.7 L889.5,832.0 L892.3,831.3 L895.2,830.6 L898.0,829.9 L900.9,829.2 L903.7,828.5 L906.5,827.8 L909.4,827.1 L912.2,826.4 L915.0,825.6 L917.8,824.9 L920.6,824.1 L923.4,823.4 L926.2,822.6 L929.0,821.9 L931.8,821.1 L934.6,820.3 L937.4,819.5 L940.2,818.7 L943.0,817.9 L945.8,817.1 L948.5,816.2 L951.3,815.4 L954.1,814.6 L956.8,813.7 L959.6,812.9 L962.3,812.0 L965.1,811.1 L967.8,810.3 L970.5,809.4 L973.3,808.5 L976.0,807.6 L978.7,806.7 L981.4,805.7 L984.1,804.8 L986.8,803.9 L989.5,802.9 L992.2,802.0 L994.9,801.0 L997.6,800.0 L1000.3,799.0 L1003.0,798.0 L1005.7,797.0 L1008.4,796.0 L1011.0,795.0 L1013.7,793.9 L1016.4,792.9 L1019.1,791.8 L1021.7,790.7 L1024.4,789.6 L1027.1,788.5 L1029.7,787.4 L1032.4,786.3 L1035.1,785.1 L1037.7,784.0 L1040.4,782.8 L1043.1,781.6 L1045.7,780.4 L1048.4,779.2 L1051.1,778.0 L1053.7,776.7 L1056.4,775.4 L1059.0,774.2 L1061.7,772.9 L1064.4,771.5 L1067.0,770.2 L1069.7,768.8 L1072.3,767.5 L1075.0,766.1 L1077.6,764.7 L1080.2,763.3 L1082.8,761.8 L1085.5,760.3 L1088.1,758.9 L1090.7,757.3 L1093.2,755.8 L1095.8,754.3 L1098.4,752.7 L1100.9,751.1 L1103.5,749.5 L1106.0,747.9 L1108.5,746.2 L1111.0,744.5 L1113.5,742.8 L1115.9,741.1 L1118.4,739.3 L1120.8,737.6 L1123.2,735.8 L1125.6,733.9 L1128.0,732.1 L1130.4,730.2 L1132.8,728.4 L1135.1,726.5 L1137.5,724.6 L1139.8,722.6 L1142.1,720.7 L1144.4,718.7 L1146.6,716.7 L1148.9,714.7 L1151.1,712.7 L1153.4,710.6 L1155.6,708.6 L1157.8,706.5 L1160.0,704.4 L1162.1,702.3 L1164.3,700.1 L1166.5,698.0 L1168.6,695.8 L1170.7,693.7 L1172.8,691.5 L1174.9,689.3 L1177.0,687.1 L1179.0,684.9 L1181.1,682.6 L1183.1,680.4 L1185.1,678.1 L1187.1,675.8 L1189.1,673.5 L1191.1,671.2 L1193.1,668.9 L1195.0,666.6 L1197.0,664.3 L1198.9,662.0 L1200.8,659.6 L1202.7,657.2 L1204.6,654.9 L1206.5,652.5 L1208.3,650.1 L1210.2,647.7 L1212.0,645.3 L1213.8,642.9 L1215.6,640.5 L1217.4,638.1 L1219.2,635.7 L1221.0,633.2 L1222.7,630.8 L1224.5,628.4 L1226.2,625.9 L1227.9,623.5 L1229.6,621.0 L1231.3,618.6 L1233.0,616.1 L1234.7,613.6 L1236.3,611.2 L1238.0,608.7 L1239.6,606.2 L1241.2,603.8 L1242.8,601.3 L1244.4,598.8 L1246.0,596.3 L1247.6,593.8 L1249.1,591.4 L1250.7,588.9 L1252.2,586.4 L1253.7,583.9 L1255.2,581.4 L1256.7,579.0 L1258.2,576.5 L1259.7,574.0 L1261.2,571.5 L1262.7,568.9 L1264.1,566.4 L1265.6,563.9 L1267.0,561.4 L1268.5,558.8 L1269.9,556.3 L1271.3,553.7 L1272.8,551.1 L1274.2,548.6 L1275.6,546.0 L1277.0,543.4 L1278.5,540.7 L1279.9,538.1 L1281.3,535.5 L1282.7,532.8 L1284.1,530.1 L1285.5,527.4 L1286.9,524.7 L1288.3,522.0 L1289.8,519.2 L1291.2,516.4 L1292.6,513.7 L1294.0,510.8 L1295.4,508.0 L1296.9,505.2 L1298.3,502.3 L1299.7,499.4 L1301.2,496.5 L1302.6,493.6 L1304.1,490.8 L1305.7,488.0 L1307.2,485.3 L1308.8,482.7 L1310.5,480.1 L1312.2,477.8 L1314.0,475.5 L1315.9,473.5 L1317.8,471.6 L1319.9,469.9 L1322.0,468.4 L1324.2,467.2 L1326.6,466.2 L1329.0,465.5 L1331.4,465.1 L1333.9,465.0 L1336.4,465.1 L1338.8,465.6 L1341.1,466.4 L1343.3,467.5 L1345.4,469.0 L1347.2,470.8 L1348.9,472.9 L1350.4,475.4 L1351.8,478.0 L1353.0,480.9 L1354.2,483.9 L1355.2,487.0 L1356.2,490.1 L1357.1,493.3 L1358.0,496.5 L1358.8,499.6 L1359.7,502.8 L1360.4,505.9 L1361.2,509.1 L1361.9,512.2 L1362.6,515.3 L1363.3,518.4 L1364.0,521.4 L1364.6,524.5 L1365.2,527.6 L1365.8,530.6 L1366.3,533.7 L1366.8,536.7 L1367.4,539.7 L1367.9,542.7 L1368.3,545.8 L1368.8,548.8 L1369.3,551.8 L1369.7,554.8 L1370.1,557.7 L1370.5,560.7 L1370.9,563.7 L1371.3,566.7 L1371.7,569.7 L1372.1,572.6 L1372.5,575.6 L1372.8,578.6 L1373.2,581.5 L1373.5,584.5 L1373.9,587.4 L1374.3,590.4 L1374.6,593.4 L1375.0,596.3 L1375.3,599.3 L1375.7,602.2 L1376.1,605.2 L1376.4,608.2 L1376.8,611.1 L1377.2,614.1 L1377.5,617.0 L1377.9,620.0 L1378.3,623.0 L1378.7,625.9 L1379.0,628.9 L1379.4,631.9 L1379.8,634.8 L1380.2,637.8 L1380.6,640.8 L1380.9,643.7 L1381.3,646.7 L1381.7,649.7 L1382.1,652.6 L1382.5,655.6 L1382.9,658.6 L1383.3,661.6 L1383.7,664.5 L1384.1,667.5 L1384.5,670.5 L1384.9,673.4 L1385.3,676.4 L1385.7,679.4 L1386.1,682.4 L1386.5,685.3 L1386.8,688.3 L1387.2,691.3 L1387.6,694.3 L1388.0,697.2 L1388.5,700.2 L1388.9,703.2 L1389.3,706.2 L1389.7,709.1 L1390.1,712.1 L1390.5,715.1 L1390.9,718.1 L1391.3,721.1 L1391.7,724.0 L1392.1,727.0 L1392.5,730.0 L1392.9,733.0 L1393.3,735.9 L1393.7,738.9 L1394.1,741.9 L1394.5,744.9 L1394.9,747.9 L1395.3,750.8 L1395.7,753.8 L1396.1,756.8 L1396.5,759.8 L1396.9,762.8 L1397.3,765.8 L1397.7,768.7 L1398.1,771.7 L1398.4,774.7 L1398.8,777.7 L1399.2,780.7 L1399.6,783.7 L1400.0,786.6 L1400.4,789.6 L1400.8,792.6 L1401.2,795.6 L1401.6,798.6 L1401.9,801.6 L1402.3,804.5 L1402.7,807.5 L1403.1,810.5 L1403.5,813.5 L1403.8,816.5 L1404.2,819.5 L1404.6,822.5 L1404.9,825.4 L1405.3,828.4 L1405.7,831.4 L1406.0,834.4 L1406.4,837.4 L1406.8,840.4 L1407.1,843.4 L1407.5,846.4 L1407.8,849.3 L1408.2,852.3 L1408.5,855.3 L1408.9,858.3 L1409.2,861.3 L1409.6,864.3 L1409.9,867.3 L1410.3,870.2 L1410.6,873.2 L1410.9,876.2 L1411.3,879.2 L1411.6,882.2 L1412.0,885.2 L1412.3,888.2 L1412.6,891.2 L1413.0,894.1 L1413.3,897.1 L1413.6,900.1 L1414.0,903.1 L1414.3,906.1 L1414.6,909.1 L1415.0,912.1 L1415.3,915.1 L1415.6,918.0 L1416.0,921.0 L1416.3,924.0 L1416.6,927.0 L1417.0,930.0 L1417.3,933.0 L1417.7,936.0 L1418.0,938.9 L1418.3,941.9 L1418.7,944.9 L1419.0,947.9 L1419.4,950.9 L1419.7,953.9 L1420.1,956.8 L1420.4,959.8 L1420.8,962.8 L1421.1,965.8 L1421.5,968.8 L1421.9,971.8 L1422.2,974.7 L1422.6,977.7 L1423.0,980.7 L1423.3,983.7 L1423.7,986.7 L1424.1,989.6 L1424.5,992.6 L1424.9,995.6 L1425.3,998.6 L1425.7,1001.6 L1426.1,1004.5 L1426.5,1007.5 L1426.9,1010.5 L1427.3,1013.5 L1427.7,1016.4 L1428.1,1019.4 L1428.6,1022.4 L1429.0,1025.4 L1429.4,1028.3 L1429.9,1031.3 L1430.3,1034.3 L1430.8,1037.3 L1431.3,1040.2 L1431.7,1043.2 L1432.2,1046.2 L1432.7,1049.1 L1433.2,1052.1 L1433.6,1055.1 L1434.1,1058.0 L1434.6,1061.0 L1435.1,1064.0 L1435.7,1066.9 L1436.2,1069.9 L1436.7,1072.9 L1437.2,1075.8 L1437.8,1078.8 L1438.3,1081.8 L1438.9,1084.7 L1439.5,1087.7 L1440.0,1090.6 L1440.6,1093.6 L1443.5,1092.6 L1446.4,1091.7 L1449.3,1090.7 L1452.2,1089.8 L1455.1,1089.0 L1458.0,1088.1 L1461.0,1087.3 L1463.9,1086.4 L1466.8,1085.6 L1469.8,1084.9 L1472.7,1084.1 L1475.6,1083.4 L1478.6,1082.6 L1481.5,1081.9 L1484.5,1081.3 L1487.4,1080.6 L1490.4,1079.9 L1493.3,1079.3 L1496.3,1078.7 L1499.3,1078.1 L1502.3,1077.5 L1505.2,1077.0 L1508.2,1076.4 L1511.2,1075.9 L1514.2,1075.4 L1517.1,1074.9 L1520.1,1074.4 L1523.1,1073.9 L1526.1,1073.5 L1529.1,1073.0 L1532.1,1072.6 L1535.1,1072.2 L1538.1,1071.8 L1541.1,1071.4 L1544.1,1071.1 L1547.1,1070.7 L1550.2,1070.4 L1553.2,1070.0 L1556.2,1069.7 L1559.2,1069.4 L1562.2,1069.1 L1565.3,1068.8 L1568.3,1068.6 L1571.3,1068.3 L1574.3,1068.0 L1577.4,1067.8 L1580.4,1067.6 L1583.4,1067.3 L1586.5,1067.1 L1589.5,1066.9 L1592.5,1066.7 L1595.6,1066.6 L1598.6,1066.4 L1601.7,1066.2 L1604.7,1066.0 L1607.7,1065.9 L1610.8,1065.8 L1613.8,1065.6 L1616.9,1065.5 L1619.9,1065.4 L1623.0,1065.2 L1626.0,1065.1 L1629.1,1065.0 L1632.1,1064.9 L1635.2,1064.8 L1638.2,1064.7 L1641.3,1064.6 L1644.4,1064.6 L1647.4,1064.5 L1650.5,1064.4 L1653.5,1064.3 L1656.6,1064.3 L1659.6,1064.2 L1662.7,1064.2 L1665.7,1064.1 L1668.8,1064.0 L1671.9,1064.0 L1674.9,1063.9 L1678.0,1063.9 L1681.0,1063.8 L1684.1,1063.8 L1687.1,1063.7 L1690.2,1063.7 L1693.2,1063.7 L1696.3,1063.6 L1699.4,1063.6 L1702.4,1063.5 L1705.5,1063.5 L1708.5,1063.4 L1711.6,1063.4 L1714.6,1063.3 L1717.7,1063.3 L1720.7,1063.2 L1723.8,1063.1 L1726.8,1063.1 L1729.9,1063.0 L1732.9,1062.9 L1735.9,1062.9 L1739.0,1062.8 L1742.0,1062.7 L1745.1,1062.6 L1748.1,1062.6 L1751.1,1062.5 L1754.2,1062.4 L1757.2,1062.3 L1760.2,1062.1 L1763.3,1062.0 L1766.3,1061.9 L1769.3,1061.8 L1772.4,1061.6 L1775.4,1061.5 L1778.4,1061.4 L1781.4,1061.2 L1784.4,1061.0 L1787.5,1060.9 L1790.5,1060.7 L1793.5,1060.5 L1796.5,1060.3 L1799.5,1060.1" stroke="#00ff00"/>
<path d="M292.3,976.2 L295.3,976.0 L298.4,975.9 L301.5,975.7 L304.5,975.5 L307.6,975.4 L310.6,975.2 L313.7,975.1 L316.7,974.9 L319.8,974.8 L322.8,974.6 L325.8,974.5 L328.9,974.3 L331.9,974.2 L335.0,974.0 L338.0,973.9 L341.0,973.7 L344.1,973.6 L347.1,973.4 L350.1,973.3 L353.2,973.2 L356.2,973.0 L359.2,972.9 L362.2,972.8 L365.3,972.6 L368.3,972.5 L371.3,972.4 L374.3,972.2 L377.3,972.1 L380.4,972.0 L383.4,971.9 L386.4,971.7 L389.4,971.6 L392.4,971.5 L395.4,971.4 L398.4,971.2 L401.5,971.1 L404.5,971.0 L407.5,970.9 L410.5,970.7 L413.5,970.6 L416.5,970.5 L419.5,970.4 L422.5,970.3 L425.5,970.1 L428.5,970.0 L431.5,969.9 L434.5,969.8 L437.5,969.7 L440.5,969.5 L443.5,969.4 L446.5,969.3 L449.5,969.2 L452.5,969.1 L455.5,969.0 L458.5,968.8 L461.5,968.7 L464.5,968.6 L467.4,968.5 L470.4,968.4 L473.4,968.2 L476.4,968.1 L479.4,968.0 L482.4,967.9 L485.4,967.7 L488.4,967.6 L491.4,967.5 L494.3,967.4 L497.3,967.2 L500.3,967.1 L503.3,967.0 L506.3,966.9 L509.3,966.7 L512.2,966.6 L515.2,966.5 L518.2,966.3 L521.2,966.2 L524.2,966.1 L527.1,965.9 L530.1,965.8 L533.1,965.7 L536.1,965.5 L539.1,965.4 L542.0,965.2 L545.0,965.1 L548.0,965.0 L551.0,964.8 L554.0,964.7 L556.9,964.5 L559.9,964.4 L562.9,964.2 L565.9,964.1 L568.8,963.9 L571.8,963.8 L574.8,963.6 L577.8,963.4 L580.7,963.3 L583.7,963.1 L586.7,962.9 L589.7,962.8 L592.6,962.6 L595.6,962.4 L598.6,962.3 L601.6,962.1 L604.6,961.9 L607.5,961.7 L610.5,961.5 L613.5,961.4 L616.5,961.2 L619.4,961.0 L622.4,960.8 L625.4,960.6 L628.4,960.4 L631.3,960.2 L634.3,960.0 L637.3,959.8 L640.3,959.6 L643.3,959.4 L646.2,959.1 L649.2,958.9 L652.2,958.7 L655.2,958.5 L658.2,958.3 L661.1,958.0 L664.1,957.8 L667.1,957.6 L670.1,957.3 L673.1,957.1 L676.0,956.8 L679.0,956.6 L682.0,956.4 L685.0,956.1 L688.0,955.8 L691.0,955.6 L693.9,955.3 L696.9,955.1 L699.9,954.8 L702.9,954.5 L705.9,954.2 L708.9,953.9 L711.9,953.7 L714.9,953.4 L717.8,953.1 L720.8,952.8 L723.8,952.5 L726.8,952.2 L729.8,951.9 L732.8,951.6 L735.8,951.2 L738.8,950.9 L741.8,950.6 L744.8,950.3 L747.8,949.9 L750.8,949.6 L753.8,949.3 L756.8,948.9 L759.8,948.6 L762.8,948.2 L765.8,947.9 L768.8,947.5 L771.8,947.1 L774.8,946.8 L777.8,946.4 L780.8,946.0 L783.8,945.6 L786.8,945.2 L789.9,944.8 L792.9,944.4 L795.9,944.0 L798.9,943.6 L801.9,943.2 L804.9,942.8 L807.9,942.4 L811.0,941.9 L814.0,941.5 L817.0,941.1 L820.0,940.6 L823.0,940.2 L826.1,939.7 L829.1,939.3 L832.1,938.8 L835.1,938.3 L838.1,937.9 L841.1,937.4 L844.1,936.9 L847.1,936.4 L850.1,935.9 L853.1,935.4 L856.1,934.9 L859.1,934.4 L862.1,933.9 L865.1,933.4 L868.1,932.9 L871.1,932.3 L874.1,931.8 L877.0,931.3 L880.0,930.8 L883.0,930.2 L885.9,929.7 L888.9,929.1 L891.8,928.6 L894.7,928.0 L897.7,927.4 L900.6,926.9 L903.5,926.3 L906.4,925.7 L909.3,925.1 L912.2,924.6 L915.1,924.0 L918.0,923.4 L920.9,922.8 L923.8,922.2 L926.6,921.6 L929.5,921.0 L932.3,920.3 L935.1,919.7 L938.0,919.1 L940.8,918.5 L943.6,917.8 L946.4,917.2 L949.2,916.6 L951.9,915.9 L954.7,915.3 L957.4,914.6 L960.2,914.0 L962.9,913.3 L965.6,912.6 L968.3,912.0 L971.0,911.3 L973.7,910.6 L976.4,909.9 L979.0,909.2 L981.7,908.5 L984.3,907.9 L986.9,907.2 L989.5,906.5 L992.1,905.8 L994.6,905.0 L997.2,904.3 L999.7,903.6 L1002.3,902.9 L1004.8,902.2 L1007.3,901.4 L1009.8,900.7 L1012.2,900.0 L1014.7,899.2 L1017.1,898.5 L1019.5,897.7 L1021.9,897.0 L1024.3,896.2 L1026.7,895.5 L1029.0,894.7 L1031.4,893.9 L1033.7,893.2 L1036.0,892.4 L1038.4,891.6 L1040.7,890.8 L1043.0,890.0 L1045.3,889.1 L1047.6,888.3 L1050.0,887.4 L1052.3,886.6 L1054.6,885.7 L1057.0,884.8 L1059.4,883.8 L1061.7,882.9 L1064.1,881.9 L1066.5,881.0 L1069.0,880.0 L1071.4,878.9 L1073.9,877.9 L1076.4,876.8 L1078.9,875.7 L1081.4,874.6 L1084.0,873.5 L1086.5,872.3 L1089.1,871.1 L1091.7,869.9 L1094.2,868.6 L1096.8,867.4 L1099.4,866.1 L1102.0,864.8 L1104.5,863.4 L1107.1,862.0 L1109.6,860.6 L1112.2,859.2 L1114.7,857.7 L1117.2,856.2 L1119.7,854.7 L1122.2,853.2 L1124.6,851.6 L1127.1,850.0 L1129.5,848.4 L1132.0,846.8 L1134.4,845.1 L1136.8,843.4 L1139.2,841.7 L1141.6,840.0 L1144.0,838.2 L1146.3,836.4 L1148.7,834.6 L1151.0,832.8 L1153.3,831.0 L1155.6,829.1 L1158.0,827.2 L1160.2,825.3 L1162.5,823.4 L1164.8,821.5 L1167.1,819.5 L1169.3,817.6 L1171.5,815.6 L1173.8,813.6 L1176.0,811.6 L1178.2,809.5 L1180.4,807.5 L1182.6,805.4 L1184.7,803.3 L1186.9,801.2 L1189.1,799.1 L1191.2,797.0 L1193.3,794.9 L1195.5,792.7 L1197.6,790.6 L1199.7,788.4 L1201.8,786.2 L1203.9,784.0 L1205.9,781.8 L1208.0,779.6 L1210.1,777.4 L1212.1,775.2 L1214.1,772.9 L1216.2,770.7 L1218.2,768.5 L1220.2,766.2 L1222.2,763.9 L1224.2,761.7 L1226.1,759.4 L1228.1,757.1 L1230.1,754.8 L1232.0,752.5 L1233.9,750.2 L1235.9,747.9 L1237.8,745.6 L1239.7,743.2 L1241.6,740.9 L1243.4,738.5 L1245.3,736.2 L1247.1,733.8 L1249.0,731.4 L1250.8,729.0 L1252.6,726.6 L1254.4,724.2 L1256.1,721.8 L1257.9,719.4 L1259.6,717.0 L1261.3,714.5 L1263.0,712.1 L1264.7,709.6 L1266.4,707.1 L1268.0,704.6 L1269.7,702.1 L1271.3,699.6 L1272.9,697.1 L1274.5,694.6 L1276.0,692.1 L1277.6,689.5 L1279.1,686.9 L1280.6,684.4 L1282.1,681.8 L1283.5,679.2 L1285.0,676.6 L1286.4,674.0 L1287.8,671.3 L1289.2,668.7 L1290.6,666.0 L1291.9,663.4 L1293.3,660.7 L1294.6,658.1 L1296.0,655.4 L1297.4,652.7 L1298.8,650.1 L1300.2,647.4 L1301.6,644.7 L1303.1,642.1 L1304.5,639.4 L1306.1,636.7 L1307.6,634.1 L1309.2,631.5 L1310.9,628.9 L1312.6,626.4 L1314.4,624.0 L1316.2,621.8 L1318.1,619.7 L1320.0,617.8 L1322.0,616.2 L1324.1,614.9 L1326.2,613.8 L1328.4,612.9 L1330.6,612.4 L1332.8,612.1 L1334.9,612.1 L1337.1,612.5 L1339.2,613.2 L1341.2,614.1 L1343.2,615.5 L1345.1,617.1 L1347.0,619.0 L1348.7,621.2 L1350.4,623.7 L1352.0,626.3 L1353.5,629.0 L1355.0,631.9 L1356.4,634.9 L1357.7,637.9 L1358.9,640.9 L1360.1,643.9 L1361.2,646.9 L1362.3,649.9 L1363.3,652.9 L1364.2,655.9 L1365.1,658.9 L1365.9,661.9 L1366.7,664.9 L1367.5,667.9 L1368.2,670.9 L1368.8,673.9 L1369.5,676.9 L1370.1,679.9 L1370.6,682.9 L1371.2,685.9 L1371.7,688.9 L1372.2,691.8 L1372.7,694.8 L1373.2,697.8 L1373.7,700.8 L1374.1,703.8 L1374.6,706.8 L1375.1,709.8 L1375.5,712.7 L1376.0,715.7 L1376.4,718.7 L1376.9,721.7 L1377.3,724.7 L1377.8,727.7 L1378.2,730.6 L1378.7,733.6 L1379.1,736.6 L1379.6,739.6 L1380.0,742.6 L1380.5,745.5 L1380.9,748.5 L1381.4,751.5 L1381.8,754.5 L1382.2,757.5 L1382.7,760.4 L1383.1,763.4 L1383.5,766.4 L1384.0,769.4 L1384.4,772.4 L1384.9,775.3 L1385.3,778.3 L1385.7,781.3 L1386.2,784.3 L1386.6,787.3 L1387.0,790.2 L1387.4,793.2 L1387.9,796.2 L1388.3,799.2 L1388.7,802.1 L1389.2,805.1 L1389.6,808.1 L1390.0,811.1 L1390.4,814.0 L1390.9,817.0 L1391.3,820.0 L1391.7,823.0 L1392.1,825.9 L1392.6,828.9 L1393.0,831.9 L1393.4,834.9 L1393.8,837.8 L1394.2,840.8 L1394.7,843.8 L1395.1,846.8 L1395.5,849.7 L1395.9,852.7 L1396.4,855.7 L1396.8,858.7 L1397.2,861.6 L1397.6,864.6 L1398.1,867.6 L1398.5,870.5 L1398.9,873.5 L1399.3,876.5 L1399.7,879.5 L1400.2,882.4 L1400.6,885.4 L1401.0,888.4 L1401.4,891.3 L1401.9,894.3 L1402.3,897.3 L1402.7,900.2 L1403.2,903.2 L1403.6,906.2 L1404.0,909.2 L1404.4,912.1 L1404.9,915.1 L1405.3,918.1 L1405.7,921.0 L1406.2,924.0 L1406.6,927.0 L1407.0,929.9 L1407.5,932.9 L1407.9,935.9 L1408.3,938.8 L1408.8,941.8 L1409.2,944.8 L1409.6,947.8 L1410.1,950.7 L1410.5,953.7 L1411.0,956.7 L1411.4,959.6 L1411.9,962.6 L1412.3,965.6 L1412.8,968.5 L1413.2,971.5 L1413.6,974.5 L1414.1,977.4 L1414.6,980.4 L1415.0,983.4 L1415.5,986.3 L1415.9,989.3 L1416.4,992.3 L1416.8,995.2 L1417.3,998.2 L1417.8,1001.2 L1418.2,1004.1 L1418.7,1007.1 L1419.2,1010.1 L1419.6,1013.0 L1420.1,1016.0 L1420.6,1019.0 L1421.0,1021.9 L1421.5,1024.9 L1422.0,1027.9 L1422.5,1030.8 L1423.0,1033.8 L1423.4,1036.7 L1423.9,1039.7 L1424.4,1042.7 L1424.9,1045.6 L1425.4,1048.6 L1425.9,1051.6 L1426.4,1054.5 L1426.9,1057.5 L1427.4,1060.5 L1427.9,1063.4 L1428.4,1066.4 L1428.9,1069.4 L1429.4,1072.3 L1429.9,1075.3 L1430.4,1078.3 L1431.0,1081.2 L1431.5,1084.2 L1432.0,1087.2 L1432.5,1090.1 L1433.1,1093.1 L1433.6,1096.1 L1434.1,1099.0 L1434.7,1102.0 L1435.2,1104.9 L1435.7,1107.9 L1436.3,1110.9 L1436.8,1113.8 L1437.4,1116.8 L1437.9,1119.8 L1438.5,1122.7 L1439.0,1125.7 L1439.6,1128.7 L1440.2,1131.6 L1440.7,1134.6 L1443.7,1134.0 L1446.6,1133.3 L1449.6,1132.7 L1452.6,1132.1 L1455.6,1131.5 L1458.5,1130.9 L1461.5,1130.3 L1464.5,1129.7 L1467.5,1129.2 L1470.4,1128.6 L1473.4,1128.1 L1476.4,1127.6 L1479.4,1127.0 L1482.4,1126.5 L1485.4,1126.0 L1488.4,1125.6 L1491.3,1125.1 L1494.3,1124.6 L1497.3,1124.2 L1500.3,1123.7 L1503.3,1123.3 L1506.3,1122.9 L1509.3,1122.4 L1512.3,1122.0 L1515.3,1121.6 L1518.3,1121.2 L1521.3,1120.9 L1524.3,1120.5 L1527.3,1120.1 L1530.3,1119.8 L1533.3,1119.4 L1536.3,1119.1 L1539.3,1118.8 L1542.3,1118.4 L1545.3,1118.1 L1548.4,1117.8 L1551.4,1117.5 L1554.4,1117.2 L1557.4,1116.9 L1560.4,1116.6 L1563.4,1116.4 L1566.4,1116.1 L1569.4,1115.9 L1572.5,1115.6 L1575.5,1115.4 L1578.5,1115.1 L1581.5,1114.9 L1584.5,1114.7 L1587.6,1114.4 L1590.6,1114.2 L1593.6,1114.0 L1596.6,1113.8 L1599.6,1113.6 L1602.7,1113.4 L1605.7,1113.3 L1608.7,1113.1 L1611.7,1112.9 L1614.8,1112.7 L1617.8,1112.6 L1620.8,1112.4 L1623.8,1112.3 L1626.9,1112.1 L1629.9,1112.0 L1632.9,1111.8 L1635.9,1111.7 L1639.0,1111.5 L1642.0,1111.4 L1645.0,1111.3 L1648.1,1111.2 L1651.1,1111.0 L1654.1,1110.9 L1657.1,1110.8 L1660.2,1110.7 L1663.2,1110.6 L1666.2,1110.5 L1669.3,1110.4 L1672.3,1110.3 L1675.3,1110.2 L1678.4,1110.1 L1681.4,1110.0 L1684.4,1109.9 L1687.5,1109.9 L1690.5,1109.8 L1693.5,1109.7 L1696.5,1109.6 L1699.6,1109.5 L1702.6,1109.4 L1705.6,1109.4 L1708.7,1109.3 L1711.7,1109.2 L1714.7,1109.2 L1717.8,1109.1 L1720.8,1109.0 L1723.8,1108.9 L1726.9,1108.9 L1729.9,1108.8 L1732.9,1108.7 L1735.9,1108.7 L1739.0,1108.6 L1742.0,1108.5 L1745.0,1108.4 L1748.1,1108.4 L1751.1,1108.3 L1754.1,1108.2 L1757.2,1108.2 L1760.2,1108.1 L1763.2,1108.0 L1766.2,1107.9 L1769.3,1107.9 L1772.3,1107.8 L1775.3,1107.7 L1778.3,1107.6 L1781.4,1107.5 L1784.4,1107.5 L1787.4,1107.4 L1790.4,1107.3 L1793.5,1107.2 L1796.5,1107.1 L1799.5,1107.0" stroke="#0000ff"/>
<path d="M292.3,1041.4 L295.3,1041.3 L298.3,1041.1 L301.2,1041.0 L304.2,1040.9 L307.2,1040.7 L310.2,1040.6 L313.2,1040.5 L316.1,1040.4 L319.1,1040.2 L322.1,1040.1 L325.1,1040.0 L328.1,1039.9 L331.0,1039.7 L334.0,1039.6 L337.0,1039.5 L340.0,1039.4 L343.0,1039.3 L346.0,1039.2 L349.0,1039.0 L352.0,1038.9 L354.9,1038.8 L357.9,1038.7 L360.9,1038.6 L363.9,1038.5 L366.9,1038.4 L369.9,1038.3 L372.9,1038.2 L375.9,1038.0 L378.9,1037.9 L381.9,1037.8 L384.9,1037.7 L387.9,1037.6 L390.9,1037.5 L393.9,1037.4 L396.9,1037.3 L399.9,1037.2 L402.9,1037.1 L405.9,1037.0 L408.9,1036.9 L411.9,1036.8 L414.9,1036.7 L417.9,1036.6 L420.9,1036.5 L423.9,1036.4 L426.9,1036.3 L429.9,1036.2 L432.9,1036.1 L435.9,1036.0 L438.9,1035.9 L441.9,1035.8 L445.0,1035.7 L448.0,1035.6 L451.0,1035.5 L454.0,1035.4 L457.0,1035.3 L460.0,1035.2 L463.0,1035.1 L466.0,1035.0 L469.0,1034.9 L472.1,1034.7 L475.1,1034.6 L478.1,1034.5 L481.1,1034.4 L484.1,1034.3 L487.1,1034.2 L490.1,1034.1 L493.1,1034.0 L496.2,1033.9 L499.2,1033.8 L502.2,1033.7 L505.2,1033.6 L508.2,1033.5 L511.2,1033.4 L514.2,1033.3 L517.3,1033.1 L520.3,1033.0 L523.3,1032.9 L526.3,1032.8 L529.3,1032.7 L532.3,1032.6 L535.4,1032.5 L538.4,1032.3 L541.4,1032.2 L544.4,1032.1 L547.4,1032.0 L550.4,1031.9 L553.5,1031.7 L556.5,1031.6 L559.5,1031.5 L562.5,1031.4 L565.5,1031.2 L568.5,1031.1 L571.6,1031.0 L574.6,1030.9 L577.6,1030.7 L580.6,1030.6 L583.6,1030.5 L586.7,1030.3 L589.7,1030.2 L592.7,1030.0 L595.7,1029.9 L598.7,1029.8 L601.7,1029.6 L604.7,1029.5 L607.8,1029.3 L610.8,1029.2 L613.8,1029.0 L616.8,1028.9 L619.8,1028.7 L622.8,1028.6 L625.9,1028.4 L628.9,1028.2 L631.9,1028.1 L634.9,1027.9 L637.9,1027.8 L640.9,1027.6 L643.9,1027.4 L647.0,1027.3 L650.0,1027.1 L653.0,1026.9 L656.0,1026.7 L659.0,1026.6 L662.0,1026.4 L665.0,1026.2 L668.0,1026.0 L671.0,1025.8 L674.1,1025.6 L677.1,1025.4 L680.1,1025.3 L683.1,1025.1 L686.1,1024.9 L689.1,1024.7 L692.1,1024.5 L695.1,1024.3 L698.1,1024.0 L701.1,1023.8 L704.1,1023.6 L707.1,1023.4 L710.1,1023.2 L713.1,1023.0 L716.1,1022.7 L719.1,1022.5 L722.1,1022.3 L725.1,1022.1 L728.1,1021.8 L731.1,1021.6 L734.1,1021.4 L737.1,1021.1 L740.1,1020.9 L743.1,1020.6 L746.1,1020.4 L749.1,1020.1 L752.1,1019.9 L755.1,1019.6 L758.1,1019.3 L761.1,1019.1 L764.1,1018.8 L767.1,1018.5 L770.1,1018.3 L773.1,1018.0 L776.1,1017.7 L779.0,1017.4 L782.0,1017.1 L785.0,1016.8 L788.0,1016.5 L791.0,1016.2 L794.0,1015.9 L797.0,1015.6 L799.9,1015.3 L802.9,1015.0 L805.9,1014.7 L808.9,1014.4 L811.9,1014.1 L814.8,1013.7 L817.8,1013.4 L820.8,1013.1 L823.8,1012.7 L826.7,1012.4 L829.7,1012.1 L832.7,1011.7 L835.7,1011.4 L838.6,1011.0 L841.6,1010.6 L844.6,1010.3 L847.5,1009.9 L850.5,1009.6 L853.5,1009.2 L856.4,1008.8 L859.4,1008.4 L862.4,1008.0 L865.3,1007.6 L868.3,1007.2 L871.2,1006.8 L874.2,1006.4 L877.1,1006.0 L880.1,1005.6 L883.1,1005.2 L886.0,1004.8 L889.0,1004.4 L891.9,1003.9 L894.9,1003.5 L897.8,1003.1 L900.8,1002.6 L903.7,1002.2 L906.6,1001.7 L909.6,1001.3 L912.5,1000.8 L915.5,1000.4 L918.4,999.9 L921.3,999.4 L924.3,998.9 L927.2,998.5 L930.1,998.0 L933.1,997.5 L936.0,997.0 L938.9,996.5 L941.9,996.0 L944.8,995.5 L947.7,995.0 L950.6,994.4 L953.6,993.9 L956.5,993.4 L959.4,992.8 L962.3,992.3 L965.2,991.8 L968.1,991.2 L971.0,990.6 L974.0,990.1 L976.9,989.5 L979.8,988.9 L982.7,988.3 L985.6,987.7 L988.5,987.1 L991.4,986.5 L994.3,985.9 L997.2,985.3 L1000.0,984.6 L1002.9,984.0 L1005.8,983.3 L1008.7,982.6 L1011.6,982.0 L1014.4,981.3 L1017.3,980.6 L1020.2,979.9 L1023.0,979.1 L1025.9,978.4 L1028.7,977.6 L1031.6,976.9 L1034.4,976.1 L1037.3,975.3 L1040.1,974.5 L1043.0,973.7 L1045.8,972.9 L1048.6,972.0 L1051.5,971.2 L1054.3,970.3 L1057.1,969.4 L1059.9,968.5 L1062.7,967.6 L1065.5,966.7 L1068.3,965.7 L1071.1,964.8 L1073.9,963.8 L1076.7,962.8 L1079.4,961.8 L1082.2,960.7 L1085.0,959.7 L1087.8,958.6 L1090.5,957.5 L1093.3,956.4 L1096.0,955.3 L1098.7,954.2 L1101.5,953.0 L1104.2,951.8 L1106.9,950.6 L1109.7,949.4 L1112.4,948.1 L1115.1,946.9 L1117.8,945.6 L1120.5,944.3 L1123.2,943.0 L1125.8,941.6 L1128.5,940.2 L1131.2,938.9 L1133.8,937.4 L1136.5,936.0 L1139.1,934.6 L1141.8,933.1 L1144.4,931.6 L1147.0,930.1 L1149.6,928.5 L1152.2,927.0 L1154.8,925.4 L1157.4,923.8 L1159.9,922.2 L1162.5,920.6 L1165.0,918.9 L1167.6,917.3 L1170.1,915.6 L1172.6,913.9 L1175.1,912.2 L1177.6,910.4 L1180.1,908.7 L1182.5,906.9 L1185.0,905.1 L1187.4,903.3 L1189.8,901.5 L1192.2,899.7 L1194.6,897.8 L1197.0,895.9 L1199.3,894.0 L1201.7,892.1 L1204.0,890.2 L1206.3,888.3 L1208.6,886.3 L1210.9,884.4 L1213.1,882.4 L1215.3,880.4 L1217.6,878.4 L1219.8,876.4 L1222.0,874.3 L1224.1,872.3 L1226.3,870.2 L1228.4,868.1 L1230.5,866.0 L1232.6,863.9 L1234.7,861.8 L1236.7,859.7 L1238.7,857.5 L1240.7,855.4 L1242.7,853.2 L1244.7,851.0 L1246.6,848.9 L1248.5,846.7 L1250.4,844.4 L1252.3,842.2 L1254.1,840.0 L1256.0,837.7 L1257.8,835.5 L1259.6,833.2 L1261.3,830.9 L1263.1,828.6 L1264.8,826.3 L1266.5,824.0 L1268.2,821.6 L1269.9,819.3 L1271.6,816.9 L1273.3,814.5 L1274.9,812.2 L1276.6,809.7 L1278.2,807.3 L1279.9,804.9 L1281.5,802.4 L1283.1,800.0 L1284.7,797.5 L1286.3,795.0 L1287.9,792.5 L1289.6,789.9 L1291.2,787.4 L1292.8,784.8 L1294.4,782.2 L1296.0,779.6 L1297.6,777.0 L1299.3,774.4 L1300.9,771.7 L1302.5,769.1 L1304.2,766.4 L1305.9,763.8 L1307.6,761.2 L1309.3,758.7 L1311.1,756.2 L1312.9,753.8 L1314.8,751.5 L1316.7,749.3 L1318.7,747.2 L1320.8,745.2 L1322.9,743.4 L1325.1,741.8 L1327.3,740.3 L1329.7,739.0 L1332.0,738.0 L1334.4,737.3 L1336.7,736.8 L1338.9,736.7 L1341.1,736.9 L1343.1,737.5 L1345.1,738.3 L1346.9,739.5 L1348.7,741.0 L1350.4,742.7 L1352.0,744.7 L1353.6,746.8 L1355.1,749.2 L1356.5,751.8 L1357.8,754.5 L1359.1,757.4 L1360.3,760.4 L1361.4,763.5 L1362.5,766.7 L1363.6,770.0 L1364.6,773.3 L1365.6,776.7 L1366.5,780.0 L1367.4,783.4 L1368.2,786.7 L1369.1,790.0 L1369.9,793.2 L1370.6,796.4 L1371.4,799.6 L1372.1,802.7 L1372.8,805.8 L1373.4,808.8 L1374.1,811.8 L1374.7,814.8 L1375.3,817.8 L1375.9,820.7 L1376.5,823.7 L1377.0,826.6 L1377.6,829.5 L1378.1,832.3 L1378.6,835.2 L1379.1,838.0 L1379.7,840.9 L1380.2,843.7 L1380.7,846.6 L1381.2,849.4 L1381.6,852.3 L1382.1,855.2 L1382.6,858.0 L1383.1,860.9 L1383.6,863.8 L1384.1,866.6 L1384.6,869.5 L1385.1,872.4 L1385.6,875.3 L1386.0,878.2 L1386.5,881.1 L1387.0,884.0 L1387.5,886.9 L1388.0,889.8 L1388.5,892.7 L1389.0,895.6 L1389.4,898.6 L1389.9,901.5 L1390.4,904.4 L1390.9,907.4 L1391.4,910.3 L1391.8,913.2 L1392.3,916.2 L1392.8,919.1 L1393.3,922.1 L1393.8,925.0 L1394.3,928.0 L1394.8,930.9 L1395.2,933.9 L1395.7,936.9 L1396.2,939.8 L1396.7,942.8 L1397.2,945.8 L1397.7,948.7 L1398.2,951.7 L1398.7,954.7 L1399.2,957.7 L1399.7,960.6 L1400.2,963.6 L1400.7,966.6 L1401.1,969.6 L1401.7,972.6 L1402.2,975.5 L1402.7,978.5 L1403.2,981.5 L1403.7,984.5 L1404.2,987.5 L1404.7,990.5 L1405.2,993.5 L1405.7,996.5 L1406.2,999.4 L1406.8,1002.4 L1407.3,1005.4 L1407.8,1008.4 L1408.3,1011.4 L1408.9,1014.4 L1409.4,1017.4 L1409.9,1020.4 L1410.5,1023.4 L1411.0,1026.4 L1411.6,1029.3 L1412.1,1032.3 L1412.7,1035.3 L1413.2,1038.3 L1413.8,1041.3 L1414.3,1044.3 L1414.9,1047.3 L1415.5,1050.2 L1416.0,1053.2 L1416.6,1056.2 L1417.2,1059.2 L1417.8,1062.1 L1418.3,1065.1 L1418.9,1068.1 L1419.5,1071.1 L1420.1,1074.0 L1420.7,1077.0 L1421.3,1080.0 L1421.9,1082.9 L1422.5,1085.9 L1423.1,1088.8 L1423.8,1091.8 L1424.4,1094.7 L1425.0,1097.7 L1425.7,1100.6 L1426.3,1103.6 L1426.9,1106.5 L1427.6,1109.4 L1428.2,1112.4 L1428.9,1115.3 L1429.6,1118.2 L1430.2,1121.2 L1430.9,1124.1 L1431.6,1127.0 L1432.3,1129.9 L1433.0,1132.8 L1433.6,1135.7 L1434.3,1138.6 L1435.0,1141.5 L1435.8,1144.4 L1436.5,1147.3 L1437.2,1150.2 L1437.9,1153.0 L1438.7,1155.9 L1439.4,1158.8 L1440.1,1161.6 L1440.9,1164.5 L1443.9,1163.9 L1446.9,1163.3 L1449.9,1162.8 L1452.9,1162.2 L1455.9,1161.7 L1458.9,1161.2 L1461.9,1160.7 L1464.9,1160.2 L1467.9,1159.7 L1470.9,1159.2 L1474.0,1158.7 L1477.0,1158.3 L1480.0,1157.8 L1483.0,1157.4 L1486.0,1157.0 L1489.0,1156.5 L1492.1,1156.1 L1495.1,1155.7 L1498.1,1155.4 L1501.1,1155.0 L1504.1,1154.6 L1507.2,1154.3 L1510.2,1153.9 L1513.2,1153.6 L1516.2,1153.3 L1519.3,1152.9 L1522.3,1152.6 L1525.3,1152.3 L1528.4,1152.0 L1531.4,1151.7 L1534.4,1151.5 L1537.4,1151.2 L1540.5,1150.9 L1543.5,1150.7 L1546.6,1150.4 L1549.6,1150.2 L1552.6,1150.0 L1555.7,1149.7 L1558.7,1149.5 L1561.7,1149.3 L1564.8,1149.1 L1567.8,1148.9 L1570.9,1148.7 L1573.9,1148.5 L1576.9,1148.4 L1580.0,1148.2 L1583.0,1148.0 L1586.1,1147.9 L1589.1,1147.7 L1592.2,1147.6 L1595.2,1147.4 L1598.3,1147.3 L1601.3,1147.2 L1604.3,1147.0 L1607.4,1146.9 L1610.4,1146.8 L1613.5,1146.7 L1616.5,1146.6 L1619.6,1146.5 L1622.6,1146.4 L1625.7,1146.3 L1628.7,1146.2 L1631.8,1146.1 L1634.8,1146.0 L1637.9,1145.9 L1640.9,1145.8 L1644.0,1145.8 L1647.0,1145.7 L1650.1,1145.6 L1653.1,1145.6 L1656.2,1145.5 L1659.2,1145.4 L1662.3,1145.4 L1665.4,1145.3 L1668.4,1145.3 L1671.5,1145.2 L1674.5,1145.2 L1677.6,1145.1 L1680.6,1145.1 L1683.7,1145.0 L1686.7,1145.0 L1689.8,1144.9 L1692.8,1144.9 L1695.9,1144.8 L1698.9,1144.8 L1702.0,1144.8 L1705.0,1144.7 L1708.1,1144.7 L1711.1,1144.6 L1714.2,1144.6 L1717.2,1144.5 L1720.3,1144.5 L1723.3,1144.5 L1726.4,1144.4 L1729.4,1144.4 L1732.5,1144.3 L1735.5,1144.3 L1738.6,1144.2 L1741.6,1144.2 L1744.7,1144.1 L1747.7,1144.1 L1750.8,1144.0 L1753.8,1144.0 L1756.9,1143.9 L1759.9,1143.8 L1763.0,1143.8 L1766.0,1143.7 L1769.1,1143.7 L1772.1,1143.6 L1775.2,1143.5 L1778.2,1143.4 L1781.2,1143.4 L1784.3,1143.3 L1787.3,1143.2 L1790.4,1143.1 L1793.4,1143.0 L1796.5,1142.9 L1799.5,1142.8" stroke="#00ffff"/>
<path d="M292.3,1089.6 L295.3,1089.6 L298.3,1089.5 L301.4,1089.4 L304.4,1089.4 L307.5,1089.3 L310.5,1089.3 L313.5,1089.2 L316.6,1089.1 L319.6,1089.1 L322.6,1089.0 L325.7,1088.9 L328.7,1088.9 L331.7,1088.8 L334.8,1088.8 L337.8,1088.7 L340.8,1088.6 L343.9,1088.6 L346.9,1088.5 L349.9,1088.4 L352.9,1088.4 L356.0,1088.3 L359.0,1088.3 L362.0,1088.2 L365.0,1088.1 L368.1,1088.1 L371.1,1088.0 L374.1,1087.9 L377.2,1087.9 L380.2,1087.8 L383.2,1087.8 L386.2,1087.7 L389.2,1087.6 L392.3,1087.6 L395.3,1087.5 L398.3,1087.4 L401.3,1087.4 L404.3,1087.3 L407.4,1087.2 L410.4,1087.2 L413.4,1087.1 L416.4,1087.0 L419.4,1087.0 L422.5,1086.9 L425.5,1086.8 L428.5,1086.8 L431.5,1086.7 L434.5,1086.6 L437.5,1086.6 L440.6,1086.5 L443.6,1086.4 L446.6,1086.4 L449.6,1086.3 L452.6,1086.2 L455.6,1086.2 L458.6,1086.1 L461.6,1086.0 L464.7,1085.9 L467.7,1085.9 L470.7,1085.8 L473.7,1085.7 L476.7,1085.6 L479.7,1085.6 L482.7,1085.5 L485.7,1085.4 L488.7,1085.3 L491.7,1085.2 L494.7,1085.2 L497.8,1085.1 L500.8,1085.0 L503.8,1084.9 L506.8,1084.8 L509.8,1084.7 L512.8,1084.7 L515.8,1084.6 L518.8,1084.5 L521.8,1084.4 L524.8,1084.3 L527.8,1084.2 L530.8,1084.1 L533.8,1084.0 L536.8,1083.9 L539.8,1083.8 L542.8,1083.7 L545.8,1083.6 L548.8,1083.5 L551.8,1083.4 L554.8,1083.3 L557.8,1083.2 L560.8,1083.1 L563.8,1083.0 L566.8,1082.9 L569.8,1082.8 L572.8,1082.7 L575.8,1082.6 L578.8,1082.5 L581.8,1082.4 L584.8,1082.3 L587.8,1082.2 L590.8,1082.1 L593.8,1081.9 L596.8,1081.8 L599.8,1081.7 L602.8,1081.6 L605.8,1081.5 L608.8,1081.3 L611.8,1081.2 L614.8,1081.1 L617.7,1081.0 L620.7,1080.8 L623.7,1080.7 L626.7,1080.6 L629.7,1080.4 L632.7,1080.3 L635.7,1080.2 L638.7,1080.0 L641.7,1079.9 L644.7,1079.7 L647.7,1079.6 L650.7,1079.4 L653.7,1079.3 L656.6,1079.2 L659.6,1079.0 L662.6,1078.9 L665.6,1078.7 L668.6,1078.5 L671.6,1078.4 L674.6,1078.2 L677.6,1078.1 L680.6,1077.9 L683.6,1077.7 L686.5,1077.6 L689.5,1077.4 L692.5,1077.2 L695.5,1077.1 L698.5,1076.9 L701.5,1076.7 L704.5,1076.5 L707.5,1076.4 L710.4,1076.2 L713.4,1076.0 L716.4,1075.8 L719.4,1075.6 L722.4,1075.4 L725.4,1075.2 L728.4,1075.0 L731.3,1074.9 L734.3,1074.7 L737.3,1074.5 L740.3,1074.3 L743.3,1074.1 L746.3,1073.8 L749.3,1073.6 L752.2,1073.4 L755.2,1073.2 L758.2,1073.0 L761.2,1072.8 L764.2,1072.6 L767.2,1072.3 L770.1,1072.1 L773.1,1071.9 L776.1,1071.7 L779.1,1071.4 L782.1,1071.2 L785.1,1071.0 L788.0,1070.7 L791.0,1070.5 L794.0,1070.2 L797.0,1070.0 L800.0,1069.7 L803.0,1069.5 L805.9,1069.2 L808.9,1069.0 L811.9,1068.7 L814.9,1068.5 L817.9,1068.2 L820.8,1067.9 L823.8,1067.7 L826.8,1067.4 L829.8,1067.1 L832.8,1066.8 L835.8,1066.6 L838.7,1066.3 L841.7,1066.0 L844.7,1065.7 L847.7,1065.4 L850.7,1065.1 L853.6,1064.8 L856.6,1064.5 L859.6,1064.2 L862.6,1063.9 L865.6,1063.6 L868.6,1063.3 L871.5,1063.0 L874.5,1062.7 L877.5,1062.4 L880.5,1062.0 L883.5,1061.7 L886.4,1061.4 L889.4,1061.0 L892.4,1060.7 L895.4,1060.4 L898.4,1060.0 L901.3,1059.7 L904.3,1059.3 L907.3,1059.0 L910.3,1058.6 L913.3,1058.3 L916.3,1057.9 L919.2,1057.6 L922.2,1057.2 L925.2,1056.8 L928.2,1056.5 L931.2,1056.1 L934.1,1055.7 L937.1,1055.3 L940.1,1055.0 L943.1,1054.6 L946.1,1054.2 L949.0,1053.8 L952.0,1053.4 L955.0,1053.0 L958.0,1052.5 L960.9,1052.1 L963.9,1051.7 L966.9,1051.3 L969.9,1050.8 L972.8,1050.4 L975.8,1050.0 L978.8,1049.5 L981.7,1049.0 L984.7,1048.6 L987.6,1048.1 L990.6,1047.6 L993.6,1047.1 L996.5,1046.6 L999.5,1046.1 L1002.4,1045.6 L1005.4,1045.1 L1008.3,1044.5 L1011.2,1044.0 L1014.2,1043.4 L1017.1,1042.9 L1020.0,1042.3 L1023.0,1041.7 L1025.9,1041.1 L1028.8,1040.5 L1031.7,1039.9 L1034.6,1039.3 L1037.5,1038.7 L1040.4,1038.0 L1043.3,1037.4 L1046.2,1036.7 L1049.1,1036.0 L1052.0,1035.3 L1054.9,1034.6 L1057.8,1033.9 L1060.6,1033.2 L1063.5,1032.5 L1066.4,1031.7 L1069.2,1031.0 L1072.1,1030.2 L1074.9,1029.4 L1077.8,1028.6 L1080.6,1027.8 L1083.4,1026.9 L1086.3,1026.1 L1089.1,1025.2 L1091.9,1024.3 L1094.7,1023.4 L1097.5,1022.5 L1100.3,1021.6 L1103.1,1020.7 L1105.9,1019.7 L1108.6,1018.7 L1111.4,1017.8 L1114.2,1016.8 L1116.9,1015.7 L1119.7,1014.7 L1122.4,1013.6 L1125.1,1012.6 L1127.8,1011.5 L1130.6,1010.4 L1133.3,1009.3 L1136.0,1008.1 L1138.7,1006.9 L1141.3,1005.8 L1144.0,1004.6 L1146.7,1003.3 L1149.3,1002.1 L1152.0,1000.9 L1154.6,999.6 L1157.3,998.3 L1159.9,997.0 L1162.5,995.6 L1165.1,994.3 L1167.7,992.9 L1170.3,991.5 L1172.9,990.1 L1175.5,988.6 L1178.0,987.2 L1180.6,985.7 L1183.1,984.2 L1185.6,982.7 L1188.2,981.1 L1190.7,979.5 L1193.2,977.9 L1195.7,976.3 L1198.1,974.7 L1200.6,973.0 L1203.1,971.3 L1205.5,969.6 L1208.0,967.9 L1210.4,966.1 L1212.8,964.3 L1215.2,962.5 L1217.6,960.7 L1220.0,958.9 L1222.3,957.0 L1224.7,955.1 L1227.0,953.2 L1229.4,951.3 L1231.7,949.4 L1234.0,947.4 L1236.3,945.4 L1238.6,943.4 L1240.8,941.4 L1243.1,939.4 L1245.3,937.3 L1247.5,935.2 L1249.8,933.1 L1251.9,931.0 L1254.1,928.9 L1256.3,926.8 L1258.5,924.6 L1260.6,922.5 L1262.7,920.3 L1264.8,918.1 L1266.9,915.9 L1269.0,913.6 L1271.1,911.4 L1273.1,909.1 L1275.2,906.9 L1277.2,904.6 L1279.2,902.3 L1281.2,900.0 L1283.1,897.7 L1285.1,895.3 L1287.0,893.0 L1288.9,890.6 L1290.8,888.3 L1292.7,885.9 L1294.6,883.5 L1296.5,881.1 L1298.3,878.7 L1300.1,876.3 L1301.9,873.8 L1303.7,871.4 L1305.4,869.0 L1307.2,866.5 L1308.9,864.1 L1310.6,861.6 L1312.3,859.1 L1314.0,856.6 L1315.6,854.2 L1317.3,851.7 L1319.1,849.4 L1320.9,847.2 L1322.9,845.1 L1325.1,843.3 L1327.5,841.7 L1330.2,840.3 L1333.1,839.4 L1336.1,838.7 L1339.1,838.6 L1342.0,838.8 L1344.6,839.5 L1347.0,840.6 L1349.2,842.1 L1351.3,843.9 L1353.2,846.0 L1354.9,848.3 L1356.6,850.8 L1358.1,853.5 L1359.5,856.3 L1360.9,859.2 L1362.2,862.1 L1363.5,865.0 L1364.7,867.9 L1365.9,870.8 L1367.0,873.8 L1368.1,876.7 L1369.2,879.6 L1370.2,882.5 L1371.2,885.4 L1372.1,888.4 L1373.0,891.3 L1373.9,894.2 L1374.8,897.1 L1375.6,900.0 L1376.4,903.0 L1377.2,905.9 L1377.9,908.8 L1378.6,911.7 L1379.3,914.7 L1380.0,917.6 L1380.6,920.5 L1381.2,923.4 L1381.8,926.4 L1382.4,929.3 L1383.0,932.2 L1383.5,935.2 L1384.1,938.1 L1384.6,941.0 L1385.1,944.0 L1385.6,946.9 L1386.1,949.8 L1386.5,952.7 L1387.0,955.7 L1387.5,958.6 L1387.9,961.5 L1388.4,964.5 L1388.8,967.4 L1389.3,970.3 L1389.7,973.3 L1390.1,976.2 L1390.6,979.2 L1391.0,982.1 L1391.5,985.0 L1391.9,988.0 L1392.4,990.9 L1392.9,993.8 L1393.3,996.8 L1393.8,999.7 L1394.3,1002.7 L1394.8,1005.6 L1395.3,1008.5 L1395.9,1011.5 L1396.4,1014.4 L1397.0,1017.4 L1397.6,1020.3 L1398.2,1023.3 L1398.8,1026.2 L1399.4,1029.1 L1400.0,1032.1 L1400.7,1035.0 L1401.3,1038.0 L1402.0,1040.9 L1402.6,1043.9 L1403.3,1046.8 L1404.0,1049.8 L1404.7,1052.7 L1405.5,1055.6 L1406.2,1058.6 L1406.9,1061.5 L1407.6,1064.5 L1408.4,1067.4 L1409.2,1070.4 L1409.9,1073.3 L1410.7,1076.2 L1411.5,1079.2 L1412.2,1082.1 L1413.0,1085.0 L1413.8,1088.0 L1414.6,1090.9 L1415.4,1093.8 L1416.2,1096.8 L1417.0,1099.7 L1417.8,1102.6 L1418.6,1105.6 L1419.4,1108.5 L1420.2,1111.4 L1421.1,1114.3 L1421.9,1117.3 L1422.7,1120.2 L1423.5,1123.1 L1424.3,1126.0 L1425.1,1128.9 L1425.9,1131.9 L1426.7,1134.8 L1427.5,1137.7 L1428.3,1140.6 L1429.1,1143.5 L1429.9,1146.4 L1430.7,1149.3 L1431.5,1152.2 L1432.3,1155.1 L1433.1,1158.0 L1433.9,1160.9 L1434.6,1163.8 L1435.4,1166.7 L1436.1,1169.5 L1436.9,1172.4 L1437.6,1175.3 L1438.3,1178.2 L1439.1,1181.1 L1439.8,1183.9 L1440.5,1186.8 L1443.5,1186.4 L1446.5,1185.9 L1449.6,1185.5 L1452.6,1185.1 L1455.6,1184.7 L1458.6,1184.3 L1461.7,1183.9 L1464.7,1183.5 L1467.7,1183.1 L1470.7,1182.8 L1473.8,1182.4 L1476.8,1182.1 L1479.8,1181.7 L1482.8,1181.4 L1485.9,1181.1 L1488.9,1180.8 L1491.9,1180.5 L1495.0,1180.2 L1498.0,1179.9 L1501.0,1179.6 L1504.1,1179.3 L1507.1,1179.0 L1510.1,1178.8 L1513.2,1178.5 L1516.2,1178.3 L1519.2,1178.0 L1522.3,1177.8 L1525.3,1177.5 L1528.3,1177.3 L1531.4,1177.1 L1534.4,1176.9 L1537.5,1176.7 L1540.5,1176.5 L1543.5,1176.3 L1546.6,1176.1 L1549.6,1175.9 L1552.7,1175.7 L1555.7,1175.5 L1558.7,1175.4 L1561.8,1175.2 L1564.8,1175.1 L1567.9,1174.9 L1570.9,1174.8 L1574.0,1174.6 L1577.0,1174.5 L1580.0,1174.3 L1583.1,1174.2 L1586.1,1174.1 L1589.2,1174.0 L1592.2,1173.8 L1595.3,1173.7 L1598.3,1173.6 L1601.4,1173.5 L1604.4,1173.4 L1607.5,1173.3 L1610.5,1173.2 L1613.5,1173.1 L1616.6,1173.0 L1619.6,1172.9 L1622.7,1172.9 L1625.7,1172.8 L1628.8,1172.7 L1631.8,1172.6 L1634.9,1172.6 L1637.9,1172.5 L1641.0,1172.4 L1644.0,1172.4 L1647.1,1172.3 L1650.1,1172.2 L1653.2,1172.2 L1656.2,1172.1 L1659.3,1172.1 L1662.3,1172.0 L1665.4,1172.0 L1668.4,1171.9 L1671.5,1171.9 L1674.5,1171.8 L1677.6,1171.8 L1680.6,1171.7 L1683.7,1171.7 L1686.7,1171.6 L1689.8,1171.6 L1692.8,1171.6 L1695.9,1171.5 L1698.9,1171.5 L1702.0,1171.4 L1705.0,1171.4 L1708.1,1171.4 L1711.1,1171.3 L1714.2,1171.3 L1717.2,1171.2 L1720.3,1171.2 L1723.3,1171.2 L1726.4,1171.1 L1729.4,1171.1 L1732.5,1171.0 L1735.5,1171.0 L1738.6,1170.9 L1741.6,1170.9 L1744.7,1170.9 L1747.7,1170.8 L1750.8,1170.8 L1753.8,1170.7 L1756.9,1170.7 L1759.9,1170.6 L1763.0,1170.5 L1766.0,1170.5 L1769.0,1170.4 L1772.1,1170.4 L1775.1,1170.3 L1778.2,1170.2 L1781.2,1170.2 L1784.3,1170.1 L1787.3,1170.0 L1790.4,1169.9 L1793.4,1169.9 L1796.5,1169.8 L1799.5,1169.7" stroke="#ff8000"/>
<path d="M292.3,1128.1 L295.3,1128.1 L298.3,1128.1 L301.3,1128.0 L304.3,1128.0 L307.3,1128.0 L310.3,1127.9 L313.3,1127.9 L316.3,1127.9 L319.3,1127.8 L322.4,1127.8 L325.4,1127.8 L328.4,1127.8 L331.4,1127.7 L334.4,1127.7 L337.4,1127.6 L340.4,1127.6 L343.4,1127.6 L346.4,1127.5 L349.4,1127.5 L352.4,1127.5 L355.4,1127.4 L358.4,1127.4 L361.4,1127.4 L364.5,1127.3 L367.5,1127.3 L370.5,1127.2 L373.5,1127.2 L376.5,1127.2 L379.5,1127.1 L382.5,1127.1 L385.5,1127.1 L388.5,1127.0 L391.5,1127.0 L394.5,1126.9 L397.6,1126.9 L400.6,1126.8 L403.6,1126.8 L406.6,1126.7 L409.6,1126.7 L412.6,1126.7 L415.6,1126.6 L418.6,1126.6 L421.6,1126.5 L424.6,1126.5 L427.7,1126.4 L430.7,1126.4 L433.7,1126.3 L436.7,1126.3 L439.7,1126.2 L442.7,1126.2 L445.7,1126.1 L448.7,1126.1 L451.7,1126.0 L454.8,1126.0 L457.8,1125.9 L460.8,1125.8 L463.8,1125.8 L466.8,1125.7 L469.8,1125.7 L472.8,1125.6 L475.8,1125.6 L478.9,1125.5 L481.9,1125.4 L484.9,1125.4 L487.9,1125.3 L490.9,1125.2 L493.9,1125.2 L496.9,1125.1 L499.9,1125.0 L503.0,1125.0 L506.0,1124.9 L509.0,1124.8 L512.0,1124.8 L515.0,1124.7 L518.0,1124.6 L521.0,1124.6 L524.0,1124.5 L527.1,1124.4 L530.1,1124.3 L533.1,1124.3 L536.1,1124.2 L539.1,1124.1 L542.1,1124.0 L545.1,1124.0 L548.1,1123.9 L551.2,1123.8 L554.2,1123.7 L557.2,1123.6 L560.2,1123.5 L563.2,1123.5 L566.2,1123.4 L569.2,1123.3 L572.2,1123.2 L575.3,1123.1 L578.3,1123.0 L581.3,1122.9 L584.3,1122.8 L587.3,1122.7 L590.3,1122.6 L593.3,1122.5 L596.3,1122.5 L599.3,1122.4 L602.4,1122.3 L605.4,1122.2 L608.4,1122.1 L611.4,1121.9 L614.4,1121.8 L617.4,1121.7 L620.4,1121.6 L623.4,1121.5 L626.4,1121.4 L629.5,1121.3 L632.5,1121.2 L635.5,1121.1 L638.5,1121.0 L641.5,1120.9 L644.5,1120.7 L647.5,1120.6 L650.5,1120.5 L653.5,1120.4 L656.5,1120.3 L659.6,1120.1 L662.6,1120.0 L665.6,1119.9 L668.6,1119.8 L671.6,1119.6 L674.6,1119.5 L677.6,1119.4 L680.6,1119.2 L683.6,1119.1 L686.6,1119.0 L689.6,1118.8 L692.7,1118.7 L695.7,1118.6 L698.7,1118.4 L701.7,1118.3 L704.7,1118.1 L707.7,1118.0 L710.7,1117.9 L713.7,1117.7 L716.7,1117.6 L719.7,1117.4 L722.7,1117.3 L725.7,1117.1 L728.7,1116.9 L731.7,1116.8 L734.7,1116.6 L737.8,1116.5 L740.8,1116.3 L743.8,1116.1 L746.8,1116.0 L749.8,1115.8 L752.8,1115.7 L755.8,1115.5 L758.8,1115.3 L761.8,1115.1 L764.8,1115.0 L767.8,1114.8 L770.8,1114.6 L773.8,1114.4 L776.8,1114.3 L779.8,1114.1 L782.8,1113.9 L785.8,1113.7 L788.8,1113.5 L791.8,1113.3 L794.8,1113.1 L797.8,1113.0 L800.8,1112.8 L803.8,1112.6 L806.8,1112.4 L809.8,1112.2 L812.8,1112.0 L815.8,1111.8 L818.8,1111.6 L821.8,1111.4 L824.8,1111.2 L827.8,1110.9 L830.8,1110.7 L833.8,1110.5 L836.8,1110.3 L839.8,1110.1 L842.8,1109.9 L845.8,1109.6 L848.8,1109.4 L851.8,1109.2 L854.8,1109.0 L857.8,1108.7 L860.8,1108.5 L863.8,1108.3 L866.8,1108.1 L869.8,1107.8 L872.7,1107.6 L875.7,1107.3 L878.7,1107.1 L881.7,1106.9 L884.7,1106.6 L887.7,1106.4 L890.7,1106.1 L893.7,1105.9 L896.7,1105.6 L899.7,1105.4 L902.7,1105.1 L905.6,1104.8 L908.6,1104.6 L911.6,1104.3 L914.6,1104.1 L917.6,1103.8 L920.6,1103.5 L923.6,1103.2 L926.6,1103.0 L929.5,1102.7 L932.5,1102.4 L935.5,1102.1 L938.5,1101.8 L941.5,1101.5 L944.5,1101.2 L947.4,1100.9 L950.4,1100.6 L953.4,1100.3 L956.4,1099.9 L959.3,1099.6 L962.3,1099.3 L965.3,1099.0 L968.3,1098.6 L971.2,1098.3 L974.2,1097.9 L977.2,1097.5 L980.1,1097.2 L983.1,1096.8 L986.1,1096.4 L989.0,1096.0 L992.0,1095.7 L994.9,1095.3 L997.9,1094.8 L1000.8,1094.4 L1003.8,1094.0 L1006.7,1093.6 L1009.7,1093.1 L1012.6,1092.7 L1015.6,1092.2 L1018.5,1091.8 L1021.5,1091.3 L1024.4,1090.8 L1027.3,1090.3 L1030.3,1089.8 L1033.2,1089.3 L1036.1,1088.8 L1039.0,1088.3 L1042.0,1087.8 L1044.9,1087.2 L1047.8,1086.7 L1050.7,1086.1 L1053.6,1085.5 L1056.5,1084.9 L1059.4,1084.3 L1062.4,1083.7 L1065.3,1083.1 L1068.2,1082.5 L1071.0,1081.8 L1073.9,1081.2 L1076.8,1080.5 L1079.7,1079.9 L1082.6,1079.2 L1085.5,1078.5 L1088.4,1077.8 L1091.2,1077.0 L1094.1,1076.3 L1097.0,1075.5 L1099.8,1074.8 L1102.7,1074.0 L1105.6,1073.2 L1108.4,1072.4 L1111.3,1071.6 L1114.1,1070.8 L1117.0,1069.9 L1119.8,1069.1 L1122.6,1068.2 L1125.5,1067.3 L1128.3,1066.4 L1131.1,1065.5 L1133.9,1064.6 L1136.8,1063.6 L1139.6,1062.7 L1142.4,1061.7 L1145.2,1060.7 L1148.0,1059.7 L1150.8,1058.7 L1153.6,1057.6 L1156.4,1056.6 L1159.1,1055.5 L1161.9,1054.4 L1164.7,1053.3 L1167.4,1052.2 L1170.2,1051.0 L1172.9,1049.9 L1175.7,1048.7 L1178.4,1047.5 L1181.1,1046.3 L1183.9,1045.0 L1186.6,1043.8 L1189.3,1042.5 L1192.0,1041.2 L1194.6,1039.9 L1197.3,1038.5 L1200.0,1037.2 L1202.6,1035.8 L1205.3,1034.4 L1207.9,1032.9 L1210.5,1031.5 L1213.1,1030.0 L1215.7,1028.5 L1218.3,1027.0 L1220.8,1025.4 L1223.4,1023.9 L1225.9,1022.3 L1228.5,1020.6 L1231.0,1019.0 L1233.5,1017.3 L1236.0,1015.6 L1238.4,1013.9 L1240.9,1012.1 L1243.3,1010.3 L1245.7,1008.5 L1248.1,1006.7 L1250.5,1004.8 L1252.9,1002.9 L1255.2,1001.0 L1257.6,999.1 L1259.9,997.1 L1262.2,995.1 L1264.5,993.0 L1266.7,991.0 L1269.0,988.9 L1271.2,986.7 L1273.4,984.6 L1275.6,982.4 L1277.7,980.1 L1279.9,977.9 L1282.0,975.6 L1284.1,973.3 L1286.2,970.9 L1288.2,968.5 L1290.3,966.1 L1292.3,963.7 L1294.3,961.3 L1296.3,958.9 L1298.3,956.5 L1300.4,954.1 L1302.4,951.8 L1304.5,949.5 L1306.5,947.3 L1308.6,945.2 L1310.8,943.2 L1312.9,941.2 L1315.1,939.4 L1317.4,937.6 L1319.7,936.0 L1322.0,934.5 L1324.4,933.2 L1326.9,932.0 L1329.4,931.0 L1332.0,930.2 L1334.6,929.6 L1337.1,929.2 L1339.7,929.0 L1342.2,929.1 L1344.7,929.5 L1347.2,930.0 L1349.5,930.8 L1351.8,931.9 L1354.0,933.2 L1356.1,934.7 L1358.0,936.4 L1359.8,938.4 L1361.6,940.5 L1363.2,942.9 L1364.7,945.3 L1366.1,948.0 L1367.5,950.8 L1368.8,953.7 L1369.9,956.7 L1371.1,959.8 L1372.1,963.0 L1373.1,966.2 L1374.1,969.6 L1375.0,972.9 L1375.8,976.3 L1376.7,979.7 L1377.4,983.1 L1378.2,986.4 L1378.9,989.8 L1379.7,993.1 L1380.4,996.3 L1381.1,999.5 L1381.8,1002.7 L1382.4,1005.8 L1383.1,1008.9 L1383.8,1012.0 L1384.4,1015.0 L1385.1,1018.0 L1385.7,1021.0 L1386.3,1023.9 L1387.0,1026.8 L1387.6,1029.7 L1388.2,1032.6 L1388.8,1035.4 L1389.4,1038.3 L1390.0,1041.1 L1390.7,1043.9 L1391.3,1046.7 L1391.9,1049.5 L1392.5,1052.2 L1393.2,1055.0 L1393.8,1057.8 L1394.5,1060.6 L1395.1,1063.3 L1395.8,1066.1 L1396.4,1068.9 L1397.1,1071.7 L1397.8,1074.5 L1398.5,1077.3 L1399.2,1080.1 L1400.0,1083.0 L1400.7,1085.8 L1401.4,1088.7 L1402.2,1091.6 L1403.0,1094.4 L1403.8,1097.3 L1404.6,1100.2 L1405.4,1103.1 L1406.2,1106.1 L1407.1,1109.0 L1407.9,1111.9 L1408.8,1114.8 L1409.6,1117.8 L1410.5,1120.7 L1411.4,1123.7 L1412.3,1126.6 L1413.2,1129.5 L1414.1,1132.5 L1415.0,1135.4 L1416.0,1138.4 L1416.9,1141.3 L1417.9,1144.2 L1418.8,1147.2 L1419.8,1150.1 L1420.8,1153.0 L1421.7,1155.9 L1422.7,1158.8 L1423.7,1161.7 L1424.7,1164.6 L1425.8,1167.5 L1426.8,1170.3 L1427.8,1173.2 L1428.8,1176.0 L1429.9,1178.9 L1430.9,1181.7 L1432.0,1184.5 L1433.0,1187.3 L1434.1,1190.0 L1435.2,1192.8 L1436.2,1195.5 L1437.3,1198.2 L1438.4,1200.9 L1439.5,1203.6 L1442.5,1203.3 L1445.5,1202.9 L1448.5,1202.6 L1451.5,1202.3 L1454.6,1202.0 L1457.6,1201.7 L1460.6,1201.4 L1463.6,1201.1 L1466.6,1200.8 L1469.6,1200.5 L1472.6,1200.3 L1475.7,1200.0 L1478.7,1199.7 L1481.7,1199.5 L1484.7,1199.2 L1487.7,1199.0 L1490.7,1198.7 L1493.8,1198.5 L1496.8,1198.3 L1499.8,1198.0 L1502.8,1197.8 L1505.8,1197.6 L1508.9,1197.4 L1511.9,1197.2 L1514.9,1197.0 L1517.9,1196.8 L1520.9,1196.6 L1524.0,1196.4 L1527.0,1196.2 L1530.0,1196.1 L1533.0,1195.9 L1536.1,1195.7 L1539.1,1195.6 L1542.1,1195.4 L1545.1,1195.3 L1548.2,1195.1 L1551.2,1195.0 L1554.2,1194.8 L1557.2,1194.7 L1560.2,1194.6 L1563.3,1194.4 L1566.3,1194.3 L1569.3,1194.2 L1572.4,1194.1 L1575.4,1194.0 L1578.4,1193.9 L1581.4,1193.7 L1584.5,1193.6 L1587.5,1193.5 L1590.5,1193.4 L1593.5,1193.4 L1596.6,1193.3 L1599.6,1193.2 L1602.6,1193.1 L1605.6,1193.0 L1608.7,1192.9 L1611.7,1192.9 L1614.7,1192.8 L1617.8,1192.7 L1620.8,1192.6 L1623.8,1192.6 L1626.8,1192.5 L1629.9,1192.5 L1632.9,1192.4 L1635.9,1192.3 L1639.0,1192.3 L1642.0,1192.2 L1645.0,1192.2 L1648.1,1192.1 L1651.1,1192.1 L1654.1,1192.1 L1657.1,1192.0 L1660.2,1192.0 L1663.2,1191.9 L1666.2,1191.9 L1669.3,1191.9 L1672.3,1191.8 L1675.3,1191.8 L1678.4,1191.8 L1681.4,1191.7 L1684.4,1191.7 L1687.4,1191.7 L1690.5,1191.7 L1693.5,1191.6 L1696.5,1191.6 L1699.6,1191.6 L1702.6,1191.6 L1705.6,1191.6 L1708.7,1191.5 L1711.7,1191.5 L1714.7,1191.5 L1717.7,1191.5 L1720.8,1191.5 L1723.8,1191.4 L1726.8,1191.4 L1729.9,1191.4 L1732.9,1191.4 L1735.9,1191.4 L1738.9,1191.4 L1742.0,1191.3 L1745.0,1191.3 L1748.0,1191.3 L1751.1,1191.3 L1754.1,1191.3 L1757.1,1191.2 L1760.1,1191.2 L1763.2,1191.2 L1766.2,1191.2 L1769.2,1191.2 L1772.3,1191.1 L1775.3,1191.1 L1778.3,1191.1 L1781.3,1191.1 L1784.4,1191.0 L1787.4,1191.0 L1790.4,1191.0 L1793.4,1191.0 L1796.5,1190.9 L1799.5,1190.9" stroke="#008000"/>
</g>
<g fill="none" stroke="#000" stroke-width="4.2">
<rect x="292.6" y="43.7" width="1507.3" height="1215.3"/>
<path d="M269.1,1259.0H292.6 M280.6,1164.1H292.6 M269.1,1069.2H292.6 M280.6,974.4H292.6 M269.1,879.5H292.6 M280.6,784.6H292.6 M269.1,689.7H292.6 M280.6,594.9H292.6 M269.1,500.0H292.6 M280.6,405.1H292.6 M269.1,310.2H292.6 M280.6,215.4H292.6 M269.1,120.5H292.6 M292.6,1259.0V1283.0 M418.2,1259.0V1271.0 M543.8,1259.0V1283.0 M669.4,1259.0V1271.0 M795.0,1259.0V1283.0 M920.6,1259.0V1271.0 M1046.2,1259.0V1283.0 M1171.9,1259.0V1271.0 M1297.5,1259.0V1283.0 M1423.1,1259.0V1271.0 M1548.7,1259.0V1283.0 M1674.3,1259.0V1271.0 M1799.9,1259.0V1283.0"/>
</g>
<g font-size="75">
<text x="251.7" y="1279.5" text-anchor="end">0.00</text>
<text x="251.7" y="1089.8" text-anchor="end">0.05</text>
<text x="251.7" y="900.0" text-anchor="end">0.10</text>
<text x="251.7" y="710.2" text-anchor="end">0.15</text>
<text x="251.7" y="520.5" text-anchor="end">0.20</text>
<text x="251.7" y="330.8" text-anchor="end">0.25</text>
<text x="251.7" y="141.0" text-anchor="end">0.30</text>
<text x="291.6" y="1356.3" text-anchor="middle">5.0</text>
<text x="542.8" y="1356.3" text-anchor="middle">7.5</text>
<text x="794.0" y="1356.3" text-anchor="middle" clip-path="url(#cx2)">10.0</text>
<text x="1045.2" y="1356.3" text-anchor="middle" clip-path="url(#cx3)">12.5</text>
<text x="1296.5" y="1356.3" text-anchor="middle" clip-path="url(#cx4)">15.0</text>
<text x="1547.7" y="1356.3" text-anchor="middle" clip-path="url(#cx5)">17.5</text>
<text x="1798.9" y="1356.3" text-anchor="middle">20.0</text>
<text x="569.6" y="1476.6">Angle of incidence (degrees)</text>
<text transform="translate(77.4,869) rotate(-90)">Si absorption</text>
</g>
</svg>
</body></html>
